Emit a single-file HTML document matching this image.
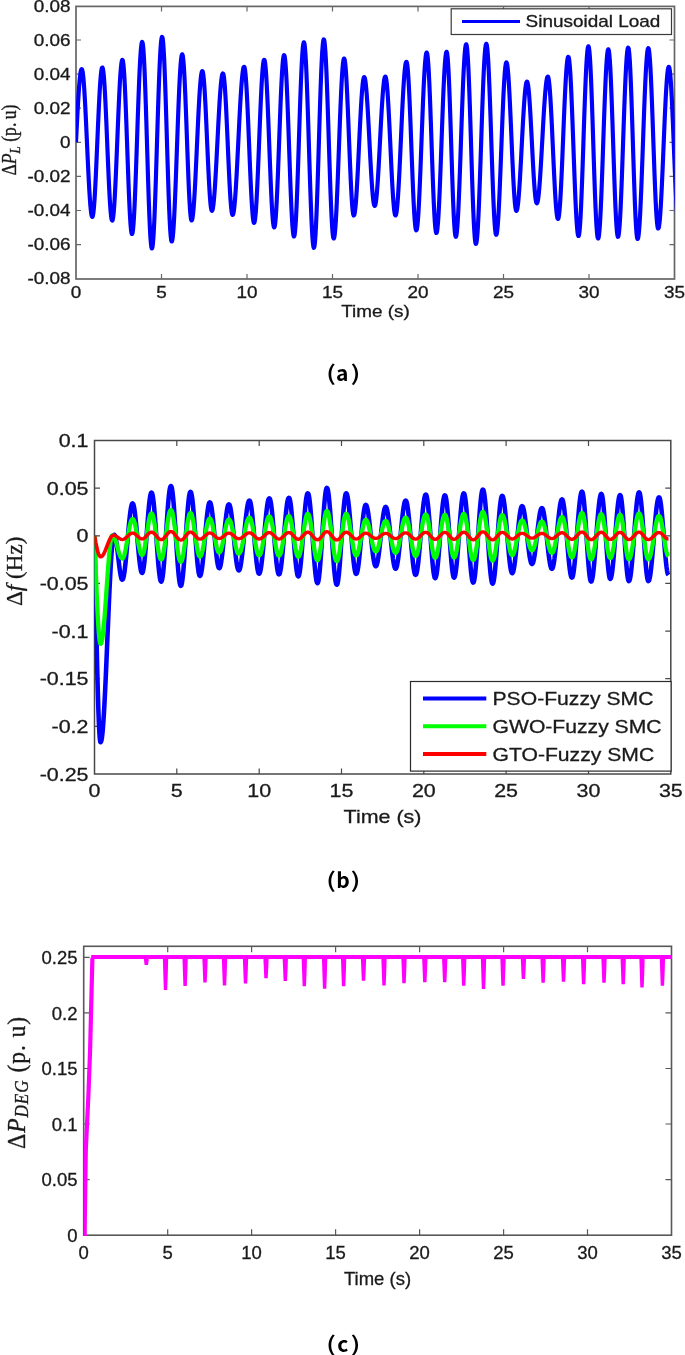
<!DOCTYPE html>
<html lang="en"><head><meta charset="utf-8"><title>Figure</title>
<style>
html,body{margin:0;padding:0;background:#fff;}
body{width:685px;height:1355px;overflow:hidden;}
svg{display:block;filter:blur(0.45px);}
</style></head><body>
<svg width="685" height="1355" viewBox="0 0 685 1355">
<rect width="685" height="1355" fill="#fff"/>
<g id="plot1">
<clipPath id="c1"><rect x="75.9" y="6.4" width="598.9" height="272.6"/></clipPath>
<rect x="76" y="6.4" width="598.5" height="272.6" fill="none" stroke="#666666" stroke-width="1.7"/>
<path d="M161.5 279 v-5 M161.5 6.4 v5 M247 279 v-5 M247 6.4 v5 M332.5 279 v-5 M332.5 6.4 v5 M418 279 v-5 M418 6.4 v5 M503.5 279 v-5 M503.5 6.4 v5 M589 279 v-5 M589 6.4 v5 M76 40 h5 M674.5 40 h-5 M76 74.1 h5 M674.5 74.1 h-5 M76 108.2 h5 M674.5 108.2 h-5 M76 142.3 h5 M674.5 142.3 h-5 M76 176.4 h5 M674.5 176.4 h-5 M76 210.5 h5 M674.5 210.5 h-5 M76 244.6 h5 M674.5 244.6 h-5 " stroke="#666666" stroke-width="1.2" fill="none"/>
<g clip-path="url(#c1)"><path transform="scale(1.190 1)" d="M63.87 142.3 L64.11 136.5 L64.34 130.8 L64.58 125.2 L64.82 119.6 L65.06 114.2 L65.30 109.0 L65.54 103.9 L65.78 99.1 L66.02 94.6 L66.26 90.4 L66.50 86.4 L66.74 82.9 L66.98 79.7 L67.22 76.9 L67.46 74.4 L67.70 72.4 L67.94 70.9 L68.18 69.8 L68.42 69.1 L68.66 68.8 L69.08 69.7 L69.50 72.1 L69.93 76.2 L70.35 81.7 L70.78 88.7 L71.20 96.8 L71.62 105.9 L72.05 115.9 L72.47 126.5 L72.90 137.5 L73.32 148.6 L73.75 159.6 L74.17 170.2 L74.59 180.1 L75.02 189.3 L75.44 197.4 L75.87 204.4 L76.29 209.9 L76.71 214.0 L77.14 216.4 L77.56 217.2 L77.98 216.3 L78.40 213.6 L78.82 209.1 L79.24 202.9 L79.66 195.3 L80.08 186.3 L80.50 176.3 L80.92 165.4 L81.34 153.9 L81.76 142.2 L82.18 130.5 L82.61 119.0 L83.03 108.1 L83.45 98.1 L83.87 89.1 L84.29 81.5 L84.71 75.3 L85.13 70.8 L85.55 68.1 L85.97 67.2 L86.40 68.2 L86.84 71.3 L87.28 76.4 L87.72 83.4 L88.16 92.0 L88.59 102.0 L89.03 113.2 L89.47 125.2 L89.91 137.7 L90.34 150.4 L90.78 162.9 L91.22 174.9 L91.66 186.1 L92.10 196.1 L92.53 204.7 L92.97 211.7 L93.41 216.8 L93.85 219.9 L94.29 220.9 L94.71 220.0 L95.14 217.0 L95.57 212.1 L96.00 205.5 L96.43 197.3 L96.86 187.7 L97.29 176.9 L97.71 165.2 L98.14 152.8 L98.57 140.2 L99.00 127.6 L99.43 115.2 L99.86 103.5 L100.29 92.7 L100.71 83.1 L101.14 74.9 L101.57 68.3 L102.00 63.4 L102.43 60.4 L102.86 59.5 L103.28 60.6 L103.71 64.2 L104.13 70.0 L104.56 77.9 L104.98 87.7 L105.40 99.1 L105.83 111.8 L106.25 125.4 L106.68 139.7 L107.10 154.1 L107.53 168.4 L107.95 182.0 L108.38 194.7 L108.80 206.1 L109.23 215.9 L109.65 223.8 L110.08 229.6 L110.50 233.2 L110.92 234.3 L111.35 233.2 L111.78 229.6 L112.21 223.8 L112.64 215.9 L113.07 206.1 L113.50 194.6 L113.92 181.7 L114.35 167.8 L114.78 153.1 L115.21 138.0 L115.64 122.9 L116.07 108.2 L116.50 94.3 L116.92 81.4 L117.35 69.9 L117.78 60.1 L118.21 52.2 L118.64 46.4 L119.07 42.8 L119.50 41.6 L119.92 43.1 L120.35 47.3 L120.78 54.1 L121.21 63.5 L121.64 75.1 L122.07 88.6 L122.50 103.6 L122.93 119.8 L123.36 136.6 L123.79 153.8 L124.21 170.6 L124.64 186.8 L125.07 201.8 L125.50 215.3 L125.93 226.9 L126.36 236.3 L126.79 243.1 L127.22 247.3 L127.65 248.8 L128.08 247.4 L128.50 243.6 L128.93 237.2 L129.36 228.5 L129.79 217.7 L130.22 205.0 L130.65 190.8 L131.08 175.5 L131.50 159.3 L131.93 142.7 L132.36 126.1 L132.79 109.9 L133.22 94.6 L133.65 80.4 L134.08 67.7 L134.50 56.9 L134.93 48.2 L135.36 41.8 L135.79 38.0 L136.22 36.6 L136.64 38.0 L137.07 42.2 L137.49 49.0 L137.92 58.3 L138.34 69.7 L138.77 83.1 L139.19 98.0 L139.62 114.0 L140.04 130.7 L140.46 147.7 L140.89 164.4 L141.31 180.4 L141.74 195.3 L142.16 208.7 L142.59 220.1 L143.01 229.4 L143.44 236.2 L143.86 240.4 L144.29 241.8 L144.71 240.7 L145.13 237.6 L145.55 232.5 L145.97 225.4 L146.39 216.7 L146.81 206.4 L147.23 194.8 L147.65 182.2 L148.07 168.8 L148.49 154.9 L148.91 140.9 L149.33 127.0 L149.75 113.6 L150.17 101.0 L150.59 89.4 L151.01 79.1 L151.43 70.4 L151.85 63.3 L152.27 58.2 L152.69 55.1 L153.11 54.0 L153.55 55.3 L153.99 59.1 L154.43 65.2 L154.86 73.6 L155.30 83.8 L155.74 95.7 L156.18 108.9 L156.62 122.9 L157.06 137.4 L157.50 151.9 L157.94 165.9 L158.38 179.1 L158.81 191.0 L159.25 201.2 L159.69 209.6 L160.13 215.7 L160.57 219.5 L161.01 220.8 L161.44 219.9 L161.86 217.4 L162.29 213.3 L162.72 207.7 L163.15 200.7 L163.58 192.5 L164.01 183.3 L164.43 173.2 L164.86 162.5 L165.29 151.4 L165.72 140.2 L166.15 129.1 L166.57 118.4 L167.00 108.3 L167.43 99.1 L167.86 90.9 L168.29 83.9 L168.72 78.3 L169.14 74.2 L169.57 71.7 L170.00 70.8 L170.42 71.8 L170.85 74.6 L171.27 79.3 L171.70 85.6 L172.12 93.5 L172.55 102.6 L172.97 112.8 L173.40 123.7 L173.82 135.2 L174.25 146.7 L174.67 158.2 L175.10 169.1 L175.52 179.3 L175.94 188.4 L176.37 196.3 L176.79 202.6 L177.22 207.3 L177.64 210.1 L178.07 211.1 L178.49 210.3 L178.91 208.3 L179.33 204.8 L179.75 200.1 L180.17 194.2 L180.59 187.3 L181.01 179.4 L181.43 170.7 L181.85 161.5 L182.27 151.9 L182.69 142.1 L183.11 132.3 L183.53 122.7 L183.95 113.5 L184.37 104.8 L184.79 96.9 L185.21 90.0 L185.63 84.1 L186.05 79.4 L186.47 75.9 L186.89 73.9 L187.31 73.2 L187.74 74.1 L188.17 77.0 L188.60 81.7 L189.03 88.1 L189.46 96.1 L189.89 105.3 L190.31 115.7 L190.74 126.8 L191.17 138.3 L191.60 150.1 L192.03 161.6 L192.46 172.7 L192.89 183.1 L193.32 192.3 L193.75 200.3 L194.18 206.7 L194.60 211.4 L195.03 214.3 L195.46 215.2 L195.88 214.6 L196.30 212.5 L196.72 209.1 L197.14 204.4 L197.56 198.6 L197.98 191.6 L198.40 183.8 L198.82 175.1 L199.24 165.8 L199.66 156.0 L200.08 145.9 L200.50 135.8 L200.92 125.7 L201.34 115.9 L201.76 106.6 L202.18 97.9 L202.61 90.1 L203.03 83.1 L203.45 77.3 L203.87 72.6 L204.29 69.2 L204.71 67.1 L205.13 66.5 L205.55 67.4 L205.97 70.3 L206.39 75.0 L206.81 81.4 L207.23 89.4 L207.65 98.7 L208.07 109.2 L208.49 120.6 L208.91 132.5 L209.33 144.8 L209.75 157.1 L210.17 169.0 L210.59 180.4 L211.01 190.9 L211.43 200.2 L211.85 208.2 L212.27 214.6 L212.69 219.3 L213.11 222.2 L213.53 223.2 L213.95 222.1 L214.38 219.1 L214.80 214.2 L215.23 207.5 L215.65 199.2 L216.08 189.4 L216.50 178.5 L216.92 166.6 L217.35 154.1 L217.77 141.3 L218.20 128.5 L218.62 116.0 L219.05 104.1 L219.47 93.2 L219.89 83.4 L220.32 75.1 L220.74 68.4 L221.17 63.5 L221.59 60.5 L222.02 59.5 L222.44 60.5 L222.86 63.6 L223.28 68.6 L223.70 75.5 L224.12 84.1 L224.54 94.1 L224.96 105.4 L225.38 117.6 L225.80 130.4 L226.22 143.5 L226.64 156.7 L227.06 169.5 L227.48 181.7 L227.90 193.0 L228.32 203.0 L228.74 211.6 L229.16 218.5 L229.58 223.5 L230.00 226.6 L230.42 227.7 L230.86 226.5 L231.30 223.0 L231.73 217.2 L232.17 209.4 L232.61 199.8 L233.05 188.5 L233.49 175.9 L233.92 162.4 L234.36 148.3 L234.80 134.1 L235.24 120.0 L235.67 106.5 L236.11 93.9 L236.55 82.6 L236.99 73.0 L237.43 65.2 L237.86 59.4 L238.30 55.9 L238.74 54.8 L239.18 56.0 L239.62 59.7 L240.05 65.7 L240.49 73.9 L240.93 84.1 L241.37 96.0 L241.80 109.2 L242.24 123.4 L242.68 138.3 L243.12 153.3 L243.56 168.2 L243.99 182.4 L244.43 195.6 L244.87 207.5 L245.31 217.7 L245.75 225.9 L246.18 231.9 L246.62 235.6 L247.06 236.8 L247.50 235.5 L247.93 231.6 L248.37 225.1 L248.81 216.3 L249.25 205.4 L249.69 192.7 L250.12 178.6 L250.56 163.4 L251.00 147.5 L251.44 131.4 L251.88 115.5 L252.31 100.3 L252.75 86.2 L253.19 73.5 L253.63 62.6 L254.06 53.8 L254.50 47.3 L254.94 43.4 L255.38 42.0 L255.80 43.3 L256.22 47.1 L256.64 53.3 L257.06 61.7 L257.48 72.2 L257.90 84.5 L258.32 98.3 L258.74 113.2 L259.16 128.9 L259.58 145.0 L260.00 161.2 L260.42 176.9 L260.84 191.8 L261.26 205.6 L261.68 217.9 L262.10 228.4 L262.52 236.8 L262.94 243.0 L263.36 246.8 L263.78 248.1 L264.22 246.6 L264.66 242.4 L265.10 235.5 L265.53 226.0 L265.97 214.3 L266.41 200.7 L266.85 185.6 L267.28 169.2 L267.72 152.2 L268.16 135.0 L268.60 118.0 L269.04 101.6 L269.47 86.5 L269.91 72.9 L270.35 61.2 L270.79 51.7 L271.23 44.8 L271.66 40.6 L272.10 39.1 L272.54 40.5 L272.98 44.6 L273.41 51.2 L273.85 60.2 L274.29 71.4 L274.73 84.4 L275.17 98.9 L275.60 114.5 L276.04 130.8 L276.48 147.2 L276.92 163.5 L277.36 179.1 L277.79 193.6 L278.23 206.6 L278.67 217.8 L279.11 226.8 L279.54 233.4 L279.98 237.5 L280.42 238.8 L280.86 237.7 L281.29 234.4 L281.73 229.0 L282.17 221.6 L282.61 212.4 L283.04 201.6 L283.48 189.5 L283.92 176.5 L284.35 162.7 L284.79 148.6 L285.23 134.4 L285.66 120.6 L286.10 107.6 L286.54 95.5 L286.97 84.7 L287.41 75.5 L287.85 68.1 L288.29 62.7 L288.72 59.4 L289.16 58.2 L289.59 59.3 L290.02 62.5 L290.45 67.7 L290.88 74.9 L291.30 83.7 L291.73 93.9 L292.16 105.4 L292.59 117.7 L293.02 130.5 L293.45 143.5 L293.88 156.3 L294.31 168.6 L294.74 180.1 L295.17 190.3 L295.59 199.1 L296.02 206.3 L296.45 211.5 L296.88 214.7 L297.31 215.8 L297.75 214.9 L298.18 212.4 L298.62 208.2 L299.06 202.5 L299.50 195.4 L299.93 187.1 L300.37 177.8 L300.81 167.8 L301.24 157.2 L301.68 146.3 L302.12 135.4 L302.55 124.8 L302.99 114.8 L303.43 105.5 L303.87 97.2 L304.30 90.1 L304.74 84.4 L305.18 80.2 L305.61 77.7 L306.05 76.8 L306.47 77.6 L306.89 79.7 L307.31 83.2 L307.73 88.1 L308.15 94.1 L308.57 101.2 L308.99 109.1 L309.41 117.8 L309.83 127.1 L310.25 136.6 L310.67 146.3 L311.09 155.8 L311.51 165.1 L311.93 173.8 L312.35 181.7 L312.77 188.8 L313.19 194.8 L313.61 199.7 L314.03 203.2 L314.45 205.3 L314.87 206.1 L315.30 205.3 L315.72 203.2 L316.15 199.6 L316.57 194.8 L316.99 188.7 L317.42 181.6 L317.84 173.6 L318.27 164.9 L318.69 155.6 L319.12 146.0 L319.54 136.4 L319.96 126.8 L320.39 117.5 L320.81 108.8 L321.24 100.8 L321.66 93.7 L322.08 87.6 L322.51 82.8 L322.93 79.2 L323.36 77.1 L323.78 76.3 L324.21 77.2 L324.64 79.8 L325.07 83.9 L325.50 89.7 L325.92 96.8 L326.35 105.1 L326.78 114.4 L327.21 124.5 L327.64 135.1 L328.07 146.0 L328.50 157.0 L328.92 167.6 L329.35 177.7 L329.78 187.0 L330.21 195.3 L330.64 202.4 L331.07 208.2 L331.50 212.3 L331.92 214.9 L332.35 215.8 L332.79 214.9 L333.23 212.3 L333.66 208.1 L334.10 202.3 L334.53 195.2 L334.97 186.7 L335.41 177.2 L335.84 166.8 L336.28 155.8 L336.71 144.4 L337.15 132.8 L337.59 121.4 L338.02 110.4 L338.46 100.0 L338.90 90.5 L339.33 82.0 L339.77 74.9 L340.20 69.1 L340.64 64.9 L341.08 62.3 L341.51 61.5 L341.95 62.6 L342.39 66.0 L342.83 71.6 L343.26 79.3 L343.70 88.8 L344.14 99.8 L344.58 112.1 L345.02 125.3 L345.45 139.1 L345.89 153.0 L346.33 166.8 L346.77 180.0 L347.20 192.3 L347.64 203.3 L348.08 212.8 L348.52 220.5 L348.96 226.1 L349.39 229.5 L349.83 230.7 L350.27 229.6 L350.71 226.3 L351.14 220.9 L351.58 213.6 L352.02 204.5 L352.45 193.9 L352.89 181.9 L353.33 169.0 L353.76 155.4 L354.20 141.5 L354.64 127.5 L355.08 113.9 L355.51 101.0 L355.95 89.0 L356.39 78.4 L356.82 69.3 L357.26 62.0 L357.70 56.6 L358.13 53.3 L358.57 52.2 L359.00 53.5 L359.43 57.2 L359.86 63.2 L360.29 71.3 L360.72 81.5 L361.15 93.3 L361.57 106.4 L362.00 120.6 L362.43 135.3 L362.86 150.3 L363.29 165.0 L363.72 179.2 L364.15 192.3 L364.58 204.1 L365.01 214.3 L365.44 222.4 L365.86 228.4 L366.29 232.1 L366.72 233.3 L367.15 232.2 L367.58 228.9 L368.01 223.4 L368.44 216.0 L368.87 206.7 L369.29 195.9 L369.72 183.7 L370.15 170.5 L370.58 156.7 L371.01 142.4 L371.44 128.2 L371.87 114.4 L372.29 101.2 L372.72 89.0 L373.15 78.2 L373.58 68.9 L374.01 61.5 L374.44 56.0 L374.87 52.7 L375.29 51.5 L375.72 53.0 L376.15 57.1 L376.58 64.0 L377.01 73.2 L377.44 84.7 L377.87 97.9 L378.30 112.6 L378.73 128.2 L379.16 144.3 L379.59 160.4 L380.02 176.0 L380.45 190.7 L380.88 203.9 L381.31 215.4 L381.74 224.6 L382.17 231.5 L382.60 235.6 L383.03 237.1 L383.46 235.9 L383.90 232.3 L384.34 226.5 L384.77 218.6 L385.21 208.8 L385.65 197.3 L386.08 184.4 L386.52 170.4 L386.96 155.6 L387.39 140.6 L387.83 125.5 L388.27 110.7 L388.71 96.7 L389.14 83.8 L389.58 72.3 L390.02 62.5 L390.45 54.6 L390.89 48.8 L391.33 45.2 L391.76 44.0 L392.19 45.4 L392.62 49.5 L393.05 56.1 L393.48 65.2 L393.91 76.4 L394.34 89.4 L394.77 103.9 L395.20 119.6 L395.63 135.9 L396.05 152.4 L396.48 168.7 L396.91 184.4 L397.34 198.9 L397.77 211.9 L398.20 223.1 L398.63 232.2 L399.06 238.8 L399.49 242.9 L399.92 244.2 L400.35 243.0 L400.79 239.3 L401.23 233.3 L401.66 225.1 L402.10 214.9 L402.54 202.9 L402.97 189.5 L403.41 174.9 L403.85 159.6 L404.29 143.9 L404.72 128.2 L405.16 112.9 L405.60 98.3 L406.03 84.9 L406.47 72.9 L406.91 62.7 L407.34 54.5 L407.78 48.5 L408.22 44.8 L408.66 43.5 L409.09 44.9 L409.53 48.7 L409.97 55.1 L410.41 63.7 L410.84 74.5 L411.28 86.9 L411.72 100.8 L412.16 115.8 L412.60 131.4 L413.03 147.2 L413.47 162.8 L413.91 177.8 L414.35 191.7 L414.79 204.1 L415.22 214.9 L415.66 223.5 L416.10 229.9 L416.54 233.7 L416.97 235.1 L417.40 234.0 L417.83 230.8 L418.26 225.6 L418.69 218.5 L419.12 209.7 L419.55 199.4 L419.97 187.8 L420.40 175.3 L420.83 162.1 L421.26 148.6 L421.69 135.1 L422.12 121.9 L422.55 109.4 L422.97 97.8 L423.40 87.5 L423.83 78.7 L424.26 71.6 L424.69 66.4 L425.12 63.2 L425.55 62.1 L425.97 63.1 L426.39 65.8 L426.81 70.3 L427.23 76.4 L427.65 84.0 L428.07 92.9 L428.49 102.9 L428.91 113.7 L429.33 125.0 L429.75 136.7 L430.17 148.4 L430.59 159.7 L431.01 170.5 L431.43 180.5 L431.85 189.4 L432.27 197.0 L432.69 203.1 L433.11 207.6 L433.53 210.3 L433.95 211.2 L434.37 210.5 L434.80 208.4 L435.22 204.8 L435.65 200.0 L436.07 193.9 L436.49 186.8 L436.92 178.8 L437.34 170.0 L437.77 160.8 L438.19 151.2 L438.62 141.4 L439.04 131.8 L439.46 122.6 L439.89 113.8 L440.31 105.8 L440.74 98.7 L441.16 92.6 L441.58 87.8 L442.01 84.2 L442.43 82.1 L442.86 81.3 L443.29 82.2 L443.72 84.7 L444.16 88.7 L444.59 94.2 L445.02 101.1 L445.46 109.0 L445.89 117.9 L446.32 127.5 L446.76 137.4 L447.19 147.5 L447.62 157.4 L448.06 167.0 L448.49 175.9 L448.93 183.8 L449.36 190.7 L449.79 196.2 L450.23 200.2 L450.66 202.7 L451.09 203.6 L451.51 202.9 L451.93 201.0 L452.35 197.8 L452.77 193.5 L453.19 188.0 L453.61 181.6 L454.03 174.3 L454.45 166.4 L454.87 157.9 L455.29 149.0 L455.71 140.0 L456.13 130.9 L456.55 122.0 L456.97 113.5 L457.39 105.6 L457.82 98.3 L458.24 91.9 L458.66 86.4 L459.08 82.1 L459.50 78.9 L459.92 77.0 L460.34 76.3 L460.76 77.2 L461.19 79.8 L461.62 84.1 L462.05 90.0 L462.48 97.3 L462.91 105.8 L463.34 115.4 L463.76 125.7 L464.19 136.6 L464.62 147.8 L465.05 159.0 L465.48 169.9 L465.91 180.2 L466.34 189.8 L466.76 198.3 L467.19 205.6 L467.62 211.5 L468.05 215.8 L468.48 218.4 L468.91 219.2 L469.34 218.2 L469.77 215.3 L470.21 210.4 L470.64 203.7 L471.07 195.4 L471.50 185.7 L471.94 174.8 L472.37 163.0 L472.80 150.6 L473.24 137.9 L473.67 125.1 L474.10 112.7 L474.53 100.9 L474.97 90.0 L475.40 80.3 L475.83 72.0 L476.26 65.3 L476.70 60.4 L477.13 57.5 L477.56 56.5 L477.99 57.6 L478.42 60.9 L478.85 66.3 L479.28 73.6 L479.71 82.8 L480.13 93.5 L480.56 105.6 L480.99 118.6 L481.42 132.3 L481.85 146.4 L482.28 160.5 L482.71 174.2 L483.13 187.2 L483.56 199.3 L483.99 210.0 L484.42 219.2 L484.85 226.5 L485.28 231.9 L485.71 235.2 L486.13 236.3 L486.57 235.1 L487.01 231.2 L487.45 224.9 L487.89 216.3 L488.32 205.6 L488.76 193.2 L489.20 179.4 L489.64 164.6 L490.08 149.1 L490.51 133.3 L490.95 117.8 L491.39 103.0 L491.83 89.2 L492.26 76.8 L492.70 66.1 L493.14 57.5 L493.58 51.2 L494.02 47.3 L494.45 46.0 L494.88 47.4 L495.31 51.3 L495.74 57.7 L496.17 66.4 L496.60 77.2 L497.03 89.7 L497.46 103.7 L497.89 118.8 L498.31 134.5 L498.74 150.4 L499.17 166.1 L499.60 181.2 L500.03 195.2 L500.46 207.7 L500.89 218.5 L501.32 227.2 L501.75 233.6 L502.18 237.5 L502.61 238.8 L503.03 237.7 L503.46 234.2 L503.89 228.5 L504.32 220.7 L504.75 211.1 L505.18 199.7 L505.61 187.0 L506.03 173.3 L506.46 158.8 L506.89 143.9 L507.32 129.1 L507.75 114.6 L508.18 100.9 L508.61 88.2 L509.03 76.8 L509.46 67.2 L509.89 59.4 L510.32 53.7 L510.75 50.2 L511.18 49.0 L511.61 50.3 L512.03 54.1 L512.46 60.4 L512.89 68.9 L513.32 79.4 L513.75 91.6 L514.18 105.3 L514.61 120.0 L515.04 135.3 L515.47 150.8 L515.90 166.1 L516.32 180.8 L516.75 194.5 L517.18 206.7 L517.61 217.2 L518.04 225.7 L518.47 232.0 L518.90 235.8 L519.33 237.1 L519.76 235.9 L520.18 232.4 L520.61 226.7 L521.04 218.9 L521.47 209.3 L521.90 198.0 L522.33 185.3 L522.76 171.5 L523.18 157.0 L523.61 142.2 L524.04 127.4 L524.47 112.9 L524.90 99.1 L525.33 86.4 L525.76 75.1 L526.18 65.5 L526.61 57.7 L527.04 52.0 L527.47 48.5 L527.90 47.4 L528.34 48.8 L528.78 53.1 L529.22 60.2 L529.65 69.8 L530.09 81.6 L530.53 95.3 L530.97 110.5 L531.41 126.7 L531.85 143.3 L532.29 160.0 L532.73 176.2 L533.17 191.3 L533.60 205.1 L534.04 216.9 L534.48 226.5 L534.92 233.6 L535.36 237.9 L535.80 239.3 L536.23 238.3 L536.65 235.1 L537.08 229.9 L537.51 222.7 L537.94 213.8 L538.37 203.3 L538.80 191.5 L539.22 178.6 L539.65 164.9 L540.08 150.8 L540.51 136.4 L540.94 122.3 L541.36 108.6 L541.79 95.7 L542.22 83.9 L542.65 73.4 L543.08 64.5 L543.51 57.3 L543.93 52.1 L544.36 48.9 L544.79 47.9 L545.23 49.1 L545.67 52.8 L546.10 58.8 L546.54 66.9 L546.98 77.1 L547.42 88.9 L547.85 102.0 L548.29 116.1 L548.73 130.9 L549.17 145.8 L549.61 160.6 L550.04 174.7 L550.48 187.8 L550.92 199.6 L551.36 209.8 L551.80 217.9 L552.23 223.9 L552.67 227.6 L553.11 228.8 L553.53 227.9 L553.96 225.2 L554.38 220.8 L554.81 214.7 L555.23 207.2 L555.65 198.3 L556.08 188.2 L556.50 177.3 L556.93 165.7 L557.35 153.7 L557.78 141.6 L558.20 129.6 L558.62 118.0 L559.05 107.1 L559.47 97.0 L559.90 88.1 L560.32 80.6 L560.74 74.5 L561.17 70.1 L561.59 67.4 L562.02 66.5 L562.45 67.4 L562.87 70.4 L563.30 75.3 L563.73 81.9 L564.16 90.1 L564.59 99.7 L565.02 110.6 L565.45 122.3 L565.87 134.6 L566.30 147.2 L566.73 159.9 L567.16 172.2 L567.59 183.9 L568.02 194.7 L568.45 204.3 L568.87 212.6 L569.30 219.2" fill="none" stroke="#0000ff" stroke-width="3.5" stroke-linejoin="round"/></g>
<text transform="translate(70.5 11.6) scale(1.190 1.000)" font-family='"Liberation Sans", sans-serif' font-size="15.9" text-anchor="end" font-weight="normal" font-style="normal" fill="#1a1a1a" stroke="#1a1a1a" stroke-width="0.3" >0.08</text>
<text transform="translate(70.5 45.7) scale(1.190 1.000)" font-family='"Liberation Sans", sans-serif' font-size="15.9" text-anchor="end" font-weight="normal" font-style="normal" fill="#1a1a1a" stroke="#1a1a1a" stroke-width="0.3" >0.06</text>
<text transform="translate(70.5 79.8) scale(1.190 1.000)" font-family='"Liberation Sans", sans-serif' font-size="15.9" text-anchor="end" font-weight="normal" font-style="normal" fill="#1a1a1a" stroke="#1a1a1a" stroke-width="0.3" >0.04</text>
<text transform="translate(70.5 113.9) scale(1.190 1.000)" font-family='"Liberation Sans", sans-serif' font-size="15.9" text-anchor="end" font-weight="normal" font-style="normal" fill="#1a1a1a" stroke="#1a1a1a" stroke-width="0.3" >0.02</text>
<text transform="translate(70.5 148) scale(1.190 1.000)" font-family='"Liberation Sans", sans-serif' font-size="15.9" text-anchor="end" font-weight="normal" font-style="normal" fill="#1a1a1a" stroke="#1a1a1a" stroke-width="0.3" >0</text>
<text transform="translate(70.5 182.1) scale(1.190 1.000)" font-family='"Liberation Sans", sans-serif' font-size="15.9" text-anchor="end" font-weight="normal" font-style="normal" fill="#1a1a1a" stroke="#1a1a1a" stroke-width="0.3" >-0.02</text>
<text transform="translate(70.5 216.2) scale(1.190 1.000)" font-family='"Liberation Sans", sans-serif' font-size="15.9" text-anchor="end" font-weight="normal" font-style="normal" fill="#1a1a1a" stroke="#1a1a1a" stroke-width="0.3" >-0.04</text>
<text transform="translate(70.5 250.3) scale(1.190 1.000)" font-family='"Liberation Sans", sans-serif' font-size="15.9" text-anchor="end" font-weight="normal" font-style="normal" fill="#1a1a1a" stroke="#1a1a1a" stroke-width="0.3" >-0.06</text>
<text transform="translate(70.5 284.4) scale(1.190 1.000)" font-family='"Liberation Sans", sans-serif' font-size="15.9" text-anchor="end" font-weight="normal" font-style="normal" fill="#1a1a1a" stroke="#1a1a1a" stroke-width="0.3" >-0.08</text>
<text transform="translate(76 297.8) scale(1.190 1.000)" font-family='"Liberation Sans", sans-serif' font-size="15.9" text-anchor="middle" font-weight="normal" font-style="normal" fill="#1a1a1a" stroke="#1a1a1a" stroke-width="0.3" >0</text>
<text transform="translate(161.5 297.8) scale(1.190 1.000)" font-family='"Liberation Sans", sans-serif' font-size="15.9" text-anchor="middle" font-weight="normal" font-style="normal" fill="#1a1a1a" stroke="#1a1a1a" stroke-width="0.3" >5</text>
<text transform="translate(247 297.8) scale(1.190 1.000)" font-family='"Liberation Sans", sans-serif' font-size="15.9" text-anchor="middle" font-weight="normal" font-style="normal" fill="#1a1a1a" stroke="#1a1a1a" stroke-width="0.3" >10</text>
<text transform="translate(332.5 297.8) scale(1.190 1.000)" font-family='"Liberation Sans", sans-serif' font-size="15.9" text-anchor="middle" font-weight="normal" font-style="normal" fill="#1a1a1a" stroke="#1a1a1a" stroke-width="0.3" >15</text>
<text transform="translate(418 297.8) scale(1.190 1.000)" font-family='"Liberation Sans", sans-serif' font-size="15.9" text-anchor="middle" font-weight="normal" font-style="normal" fill="#1a1a1a" stroke="#1a1a1a" stroke-width="0.3" >20</text>
<text transform="translate(503.5 297.8) scale(1.190 1.000)" font-family='"Liberation Sans", sans-serif' font-size="15.9" text-anchor="middle" font-weight="normal" font-style="normal" fill="#1a1a1a" stroke="#1a1a1a" stroke-width="0.3" >25</text>
<text transform="translate(589 297.8) scale(1.190 1.000)" font-family='"Liberation Sans", sans-serif' font-size="15.9" text-anchor="middle" font-weight="normal" font-style="normal" fill="#1a1a1a" stroke="#1a1a1a" stroke-width="0.3" >30</text>
<text transform="translate(674.5 297.8) scale(1.190 1.000)" font-family='"Liberation Sans", sans-serif' font-size="15.9" text-anchor="middle" font-weight="normal" font-style="normal" fill="#1a1a1a" stroke="#1a1a1a" stroke-width="0.3" >35</text>
<text transform="translate(375.5 317) scale(1.190 1.000)" font-family='"Liberation Sans", sans-serif' font-size="15.9" text-anchor="middle" font-weight="normal" font-style="normal" fill="#1a1a1a" stroke="#1a1a1a" stroke-width="0.3" >Time (s)</text>
<rect x="451.2" y="8.8" width="220.3" height="25.7" fill="#fff" stroke="#3a3a3a" stroke-width="1.2"/>
<path d="M462 21.5 H520" stroke="#0000ff" stroke-width="3.2"/>
<text transform="translate(525.6 26.9) scale(1.190 1.000)" font-family='"Liberation Sans", sans-serif' font-size="15.9" text-anchor="start" font-weight="normal" font-style="normal" fill="#1a1a1a" stroke="#1a1a1a" stroke-width="0.3" >Sinusoidal Load</text>
<text transform="translate(15.5 140) rotate(-90) scale(1.000 1.150)" font-family='"Liberation Serif", serif' font-size="17.6" text-anchor="middle" font-weight="normal" font-style="normal" fill="#1a1a1a" stroke="#1a1a1a" stroke-width="0.3" >&#916;<tspan font-style="italic">P</tspan><tspan font-style="italic" font-size="13" dy="4">L</tspan><tspan dy="-4"> (p.&#8201;u)</tspan></text>
</g>
<g font-family='"Noto Sans CJK SC", "Liberation Sans", sans-serif' font-size="21" font-weight="bold" fill="#000">
<text font-weight="500" transform="translate(325.9 380.5) scale(1.35 1)">(</text><text x="335.9" y="380.5">a</text><text font-weight="500" transform="translate(350.4 380.5) scale(1.35 1)">)</text>
</g>
<g id="plot2">
<clipPath id="c2"><rect x="94.4" y="440.5" width="576.7" height="333.5"/></clipPath>
<rect x="94.5" y="440.5" width="576.3" height="333.5" fill="none" stroke="#484848" stroke-width="1.5"/>
<path d="M176.8 774 v-5.5 M176.8 440.5 v5.5 M259.2 774 v-5.5 M259.2 440.5 v5.5 M341.5 774 v-5.5 M341.5 440.5 v5.5 M423.8 774 v-5.5 M423.8 440.5 v5.5 M506.1 774 v-5.5 M506.1 440.5 v5.5 M588.5 774 v-5.5 M588.5 440.5 v5.5 M94.5 488.1 h5.5 M670.8 488.1 h-5.5 M94.5 535.8 h5.5 M670.8 535.8 h-5.5 M94.5 583.4 h5.5 M670.8 583.4 h-5.5 M94.5 631.1 h5.5 M670.8 631.1 h-5.5 M94.5 678.7 h5.5 M670.8 678.7 h-5.5 M94.5 726.4 h5.5 M670.8 726.4 h-5.5 " stroke="#484848" stroke-width="1.2" fill="none"/>
<g clip-path="url(#c2)"><path transform="scale(1.140 1)" d="M82.89 535.8 L83.07 546.6 L83.25 557.4 L83.43 568.1 L83.61 578.8 L83.79 589.3 L83.96 599.7 L84.14 609.9 L84.32 619.9 L84.50 629.6 L84.68 639.1 L84.86 648.4 L85.04 657.3 L85.21 665.9 L85.39 674.1 L85.57 682.0 L85.75 689.4 L85.93 696.4 L86.11 703.0 L86.28 709.2 L86.46 714.8 L86.64 720.0 L86.82 724.6 L87.00 728.8 L87.18 732.4 L87.35 735.5 L87.53 738.0 L87.71 740.0 L87.89 741.4 L88.07 742.2 L88.25 742.5 L88.64 741.9 L89.04 740.2 L89.44 737.4 L89.84 733.5 L90.23 728.6 L90.63 722.6 L91.03 715.8 L91.43 708.1 L91.82 699.6 L92.22 690.5 L92.62 680.8 L93.02 670.6 L93.42 660.1 L93.81 649.4 L94.21 638.5 L94.61 627.6 L95.01 616.9 L95.40 606.4 L95.80 596.2 L96.20 586.5 L96.60 577.4 L96.99 568.9 L97.39 561.2 L97.79 554.4 L98.19 548.4 L98.58 543.5 L98.98 539.6 L99.38 536.8 L99.78 535.1 L100.18 534.5 L100.62 534.9 L101.06 536.2 L101.51 538.3 L101.95 541.2 L102.40 544.6 L102.84 548.5 L103.28 552.8 L103.73 557.2 L104.17 561.7 L104.62 566.0 L105.06 569.9 L105.50 573.3 L105.95 576.2 L106.39 578.3 L106.84 579.6 L107.28 580.0 L107.73 579.5 L108.18 578.1 L108.64 575.8 L109.09 572.7 L109.54 568.8 L109.99 564.2 L110.44 559.0 L110.89 553.5 L111.35 547.6 L111.80 541.6 L112.25 535.6 L112.70 529.7 L113.15 524.2 L113.61 519.0 L114.06 514.4 L114.51 510.5 L114.96 507.4 L115.41 505.1 L115.86 503.7 L116.32 503.2 L116.75 503.7 L117.19 505.1 L117.63 507.4 L118.07 510.6 L118.51 514.5 L118.95 519.1 L119.39 524.1 L119.82 529.6 L120.26 535.3 L120.70 541.1 L121.14 546.8 L121.58 552.3 L122.02 557.3 L122.46 561.9 L122.89 565.8 L123.33 569.0 L123.77 571.3 L124.21 572.7 L124.65 573.2 L125.11 572.6 L125.57 570.8 L126.02 567.8 L126.48 563.7 L126.94 558.8 L127.40 553.0 L127.86 546.6 L128.31 539.8 L128.77 532.8 L129.23 525.7 L129.69 518.9 L130.15 512.5 L130.60 506.7 L131.06 501.8 L131.52 497.7 L131.98 494.7 L132.44 492.9 L132.89 492.3 L133.34 492.9 L133.79 494.7 L134.24 497.7 L134.69 501.7 L135.13 506.7 L135.58 512.6 L136.03 519.1 L136.48 526.1 L136.93 533.4 L137.37 540.7 L137.82 548.0 L138.27 555.0 L138.72 561.5 L139.16 567.4 L139.61 572.4 L140.06 576.4 L140.51 579.4 L140.96 581.2 L141.40 581.8 L141.85 581.1 L142.30 579.2 L142.75 576.0 L143.19 571.7 L143.64 566.3 L144.09 560.1 L144.54 553.1 L144.99 545.6 L145.43 537.8 L145.88 529.8 L146.33 522.0 L146.78 514.5 L147.23 507.5 L147.67 501.3 L148.12 495.9 L148.57 491.6 L149.02 488.4 L149.46 486.5 L149.91 485.8 L150.37 486.5 L150.83 488.5 L151.28 491.8 L151.74 496.4 L152.20 502.0 L152.65 508.5 L153.11 515.8 L153.57 523.6 L154.03 531.8 L154.48 540.1 L154.94 548.3 L155.40 556.1 L155.85 563.4 L156.31 569.9 L156.77 575.5 L157.23 580.1 L157.68 583.4 L158.14 585.4 L158.60 586.1 L159.04 585.5 L159.49 583.5 L159.94 580.4 L160.39 576.1 L160.84 570.9 L161.28 564.7 L161.73 557.8 L162.18 550.4 L162.63 542.8 L163.07 534.9 L163.52 527.3 L163.97 519.9 L164.42 513.0 L164.87 506.8 L165.31 501.6 L165.76 497.3 L166.21 494.2 L166.66 492.2 L167.11 491.6 L167.56 492.2 L168.02 494.1 L168.48 497.3 L168.94 501.5 L169.40 506.7 L169.85 512.7 L170.31 519.4 L170.77 526.5 L171.23 533.9 L171.69 541.2 L172.14 548.3 L172.60 555.0 L173.06 561.0 L173.52 566.2 L173.98 570.4 L174.43 573.6 L174.89 575.5 L175.35 576.1 L175.81 575.6 L176.27 574.1 L176.72 571.6 L177.18 568.3 L177.64 564.2 L178.09 559.4 L178.55 554.0 L179.01 548.2 L179.46 542.2 L179.92 536.1 L180.38 530.1 L180.84 524.3 L181.29 518.9 L181.75 514.1 L182.21 510.0 L182.66 506.7 L183.12 504.2 L183.58 502.7 L184.04 502.2 L184.49 502.7 L184.95 504.2 L185.41 506.6 L185.87 509.9 L186.33 514.0 L186.78 518.8 L187.24 524.0 L187.70 529.6 L188.16 535.3 L188.62 541.0 L189.07 546.6 L189.53 551.9 L189.99 556.6 L190.45 560.7 L190.91 564.0 L191.36 566.4 L191.82 567.9 L192.28 568.4 L192.73 568.0 L193.18 566.7 L193.62 564.5 L194.07 561.6 L194.52 558.0 L194.97 553.8 L195.42 549.1 L195.86 544.1 L196.31 538.9 L196.76 533.5 L197.21 528.3 L197.65 523.3 L198.10 518.6 L198.55 514.4 L199.00 510.8 L199.45 507.9 L199.89 505.7 L200.34 504.4 L200.79 504.0 L201.25 504.5 L201.70 505.8 L202.16 508.0 L202.62 511.0 L203.07 514.8 L203.53 519.1 L203.99 524.0 L204.45 529.2 L204.90 534.6 L205.36 540.1 L205.82 545.5 L206.27 550.7 L206.73 555.6 L207.19 559.9 L207.65 563.7 L208.10 566.7 L208.56 568.9 L209.02 570.2 L209.47 570.7 L209.92 570.3 L210.36 569.1 L210.80 567.2 L211.24 564.6 L211.69 561.3 L212.13 557.4 L212.57 553.1 L213.02 548.4 L213.46 543.3 L213.90 538.1 L214.34 532.9 L214.79 527.7 L215.23 522.6 L215.67 517.9 L216.12 513.6 L216.56 509.7 L217.00 506.4 L217.44 503.8 L217.89 501.9 L218.33 500.7 L218.77 500.3 L219.22 500.8 L219.67 502.3 L220.12 504.7 L220.56 508.1 L221.01 512.2 L221.46 517.0 L221.91 522.3 L222.35 528.1 L222.80 534.1 L223.25 540.1 L223.70 546.1 L224.15 551.9 L224.59 557.2 L225.04 562.0 L225.49 566.1 L225.94 569.5 L226.39 571.9 L226.83 573.4 L227.28 573.9 L227.73 573.4 L228.18 572.0 L228.62 569.8 L229.07 566.7 L229.52 562.8 L229.96 558.3 L230.41 553.2 L230.86 547.7 L231.31 541.9 L231.75 536.0 L232.20 530.0 L232.65 524.2 L233.10 518.7 L233.54 513.6 L233.99 509.1 L234.44 505.2 L234.89 502.1 L235.33 499.9 L235.78 498.5 L236.23 498.0 L236.68 498.5 L237.12 500.1 L237.57 502.6 L238.02 506.1 L238.47 510.4 L238.92 515.4 L239.36 520.9 L239.81 526.9 L240.26 533.1 L240.71 539.5 L241.15 545.7 L241.60 551.7 L242.05 557.2 L242.50 562.2 L242.95 566.5 L243.39 570.0 L243.84 572.5 L244.29 574.1 L244.74 574.6 L245.19 574.1 L245.65 572.5 L246.11 570.0 L246.57 566.5 L247.02 562.2 L247.48 557.1 L247.94 551.5 L248.39 545.5 L248.85 539.2 L249.31 532.9 L249.76 526.6 L250.22 520.6 L250.68 515.0 L251.14 509.9 L251.59 505.6 L252.05 502.1 L252.51 499.6 L252.96 498.0 L253.42 497.5 L253.88 498.1 L254.34 499.9 L254.80 502.8 L255.25 506.8 L255.71 511.6 L256.17 517.3 L256.63 523.5 L257.09 530.2 L257.54 537.0 L258.00 543.9 L258.46 550.6 L258.92 556.8 L259.38 562.5 L259.83 567.3 L260.29 571.3 L260.75 574.2 L261.21 576.0 L261.67 576.6 L262.11 576.0 L262.54 574.3 L262.98 571.6 L263.42 567.8 L263.86 563.1 L264.30 557.7 L264.74 551.6 L265.18 545.1 L265.61 538.3 L266.05 531.3 L266.49 524.5 L266.93 518.0 L267.37 511.9 L267.81 506.5 L268.25 501.8 L268.68 498.0 L269.12 495.3 L269.56 493.6 L270.00 493.0 L270.45 493.6 L270.90 495.4 L271.34 498.4 L271.79 502.5 L272.24 507.6 L272.69 513.5 L273.13 520.0 L273.58 527.1 L274.03 534.4 L274.48 541.9 L274.93 549.2 L275.37 556.3 L275.82 562.8 L276.27 568.7 L276.72 573.8 L277.17 577.9 L277.61 580.9 L278.06 582.7 L278.51 583.3 L278.97 582.6 L279.42 580.4 L279.88 576.9 L280.34 572.1 L280.80 566.2 L281.26 559.4 L281.72 551.8 L282.17 543.8 L282.63 535.5 L283.09 527.1 L283.55 519.1 L284.01 511.5 L284.46 504.7 L284.92 498.8 L285.38 494.0 L285.84 490.5 L286.30 488.3 L286.75 487.6 L287.21 488.3 L287.67 490.2 L288.13 493.5 L288.58 497.9 L289.04 503.3 L289.50 509.7 L289.95 516.7 L290.41 524.3 L290.87 532.3 L291.33 540.3 L291.78 548.3 L292.24 555.9 L292.70 562.9 L293.15 569.3 L293.61 574.7 L294.07 579.1 L294.52 582.4 L294.98 584.3 L295.44 585.0 L295.90 584.3 L296.35 582.2 L296.81 578.8 L297.27 574.2 L297.73 568.6 L298.19 562.0 L298.65 554.7 L299.10 547.0 L299.56 539.0 L300.02 531.0 L300.48 523.3 L300.94 516.0 L301.39 509.4 L301.85 503.8 L302.31 499.2 L302.77 495.8 L303.23 493.7 L303.68 493.0 L304.12 493.5 L304.56 495.0 L305.00 497.4 L305.44 500.7 L305.88 504.9 L306.32 509.7 L306.75 515.1 L307.19 521.0 L307.63 527.2 L308.07 533.5 L308.51 539.9 L308.95 546.1 L309.39 552.0 L309.82 557.4 L310.26 562.2 L310.70 566.4 L311.14 569.7 L311.58 572.1 L312.02 573.6 L312.46 574.1 L312.90 573.6 L313.34 572.2 L313.79 569.9 L314.23 566.8 L314.67 562.9 L315.12 558.4 L315.56 553.3 L316.00 547.9 L316.45 542.3 L316.89 536.5 L317.33 530.9 L317.77 525.5 L318.22 520.4 L318.66 515.9 L319.10 512.0 L319.55 508.9 L319.99 506.6 L320.43 505.2 L320.88 504.7 L321.32 505.1 L321.75 506.2 L322.19 508.1 L322.63 510.6 L323.07 513.7 L323.51 517.4 L323.95 521.5 L324.39 526.0 L324.82 530.7 L325.26 535.5 L325.70 540.4 L326.14 545.1 L326.58 549.6 L327.02 553.7 L327.46 557.4 L327.89 560.5 L328.33 563.0 L328.77 564.9 L329.21 566.0 L329.65 566.4 L330.11 566.0 L330.56 564.8 L331.02 562.8 L331.48 560.1 L331.93 556.8 L332.39 552.9 L332.85 548.5 L333.31 543.9 L333.76 539.0 L334.22 534.1 L334.68 529.2 L335.13 524.6 L335.59 520.2 L336.05 516.3 L336.51 513.0 L336.96 510.3 L337.42 508.3 L337.88 507.1 L338.33 506.7 L338.79 507.1 L339.25 508.4 L339.70 510.4 L340.16 513.3 L340.62 516.7 L341.08 520.8 L341.53 525.3 L341.99 530.2 L342.45 535.2 L342.90 540.4 L343.36 545.4 L343.82 550.3 L344.28 554.8 L344.73 558.9 L345.19 562.3 L345.65 565.2 L346.10 567.2 L346.56 568.5 L347.02 568.9 L347.46 568.5 L347.90 567.2 L348.35 565.2 L348.79 562.3 L349.23 558.9 L349.68 554.8 L350.12 550.2 L350.56 545.2 L351.00 540.0 L351.45 534.6 L351.89 529.2 L352.33 524.0 L352.78 519.0 L353.22 514.4 L353.66 510.3 L354.11 506.9 L354.55 504.0 L354.99 502.0 L355.43 500.7 L355.88 500.3 L356.33 500.8 L356.79 502.3 L357.25 504.8 L357.71 508.2 L358.16 512.4 L358.62 517.2 L359.08 522.7 L359.53 528.5 L359.99 534.6 L360.45 540.8 L360.90 546.9 L361.36 552.7 L361.82 558.2 L362.28 563.0 L362.73 567.2 L363.19 570.6 L363.65 573.1 L364.10 574.6 L364.56 575.1 L365.01 574.6 L365.46 573.1 L365.90 570.7 L366.35 567.4 L366.80 563.3 L367.25 558.4 L367.69 553.0 L368.14 547.2 L368.59 541.0 L369.04 534.7 L369.48 528.4 L369.93 522.2 L370.38 516.4 L370.82 511.0 L371.27 506.1 L371.72 502.0 L372.17 498.7 L372.61 496.3 L373.06 494.8 L373.51 494.3 L373.97 494.9 L374.42 496.8 L374.88 499.9 L375.34 504.1 L375.80 509.3 L376.26 515.3 L376.72 521.9 L377.17 529.0 L377.63 536.3 L378.09 543.6 L378.55 550.7 L379.01 557.3 L379.46 563.3 L379.92 568.5 L380.38 572.7 L380.84 575.8 L381.30 577.7 L381.75 578.3 L382.20 577.7 L382.65 576.0 L383.10 573.3 L383.55 569.5 L383.99 564.9 L384.44 559.4 L384.89 553.4 L385.34 546.9 L385.78 540.1 L386.23 533.2 L386.68 526.4 L387.13 519.9 L387.58 513.9 L388.02 508.4 L388.47 503.8 L388.92 500.0 L389.37 497.3 L389.82 495.6 L390.26 495.0 L390.71 495.6 L391.16 497.5 L391.61 500.6 L392.06 504.7 L392.50 509.8 L392.95 515.7 L393.40 522.3 L393.85 529.3 L394.30 536.4 L394.75 543.6 L395.19 550.6 L395.64 557.2 L396.09 563.1 L396.54 568.2 L396.99 572.3 L397.44 575.4 L397.88 577.3 L398.33 577.9 L398.78 577.3 L399.23 575.6 L399.68 572.8 L400.12 568.9 L400.57 564.2 L401.02 558.7 L401.47 552.5 L401.92 545.9 L402.36 539.0 L402.81 531.9 L403.26 525.0 L403.71 518.4 L404.16 512.2 L404.60 506.7 L405.05 502.0 L405.50 498.1 L405.95 495.3 L406.39 493.6 L406.84 493.0 L407.30 493.7 L407.76 495.7 L408.22 499.0 L408.67 503.5 L409.13 509.0 L409.59 515.4 L410.05 522.5 L410.51 530.1 L410.96 537.9 L411.42 545.7 L411.88 553.3 L412.34 560.3 L412.80 566.8 L413.26 572.3 L413.71 576.8 L414.17 580.1 L414.63 582.1 L415.09 582.8 L415.54 582.2 L415.98 580.3 L416.43 577.2 L416.88 572.9 L417.33 567.7 L417.77 561.6 L418.22 554.8 L418.67 547.5 L419.12 539.9 L419.57 532.2 L420.01 524.6 L420.46 517.3 L420.91 510.5 L421.36 504.4 L421.81 499.2 L422.25 494.9 L422.70 491.8 L423.15 489.9 L423.60 489.3 L424.04 489.9 L424.49 491.9 L424.94 495.0 L425.39 499.3 L425.84 504.5 L426.28 510.7 L426.73 517.6 L427.18 525.0 L427.63 532.6 L428.07 540.5 L428.52 548.1 L428.97 555.5 L429.42 562.4 L429.87 568.6 L430.31 573.8 L430.76 578.1 L431.21 581.2 L431.66 583.2 L432.11 583.8 L432.55 583.2 L432.99 581.4 L433.43 578.5 L433.88 574.5 L434.32 569.6 L434.76 563.8 L435.21 557.4 L435.65 550.5 L436.09 543.3 L436.54 536.0 L436.98 528.8 L437.42 521.9 L437.87 515.5 L438.31 509.7 L438.75 504.8 L439.20 500.8 L439.64 497.9 L440.08 496.1 L440.53 495.5 L440.96 496.0 L441.40 497.4 L441.84 499.7 L442.28 502.9 L442.72 506.9 L443.16 511.6 L443.60 516.8 L444.04 522.4 L444.47 528.4 L444.91 534.4 L445.35 540.5 L445.79 546.5 L446.23 552.1 L446.67 557.3 L447.11 562.0 L447.54 566.0 L447.98 569.2 L448.42 571.5 L448.86 572.9 L449.30 573.4 L449.76 572.9 L450.21 571.6 L450.67 569.3 L451.13 566.3 L451.58 562.5 L452.04 558.1 L452.50 553.2 L452.95 547.9 L453.41 542.4 L453.87 536.9 L454.33 531.4 L454.78 526.1 L455.24 521.2 L455.70 516.8 L456.15 513.0 L456.61 510.0 L457.07 507.7 L457.53 506.4 L457.98 505.9 L458.44 506.3 L458.90 507.5 L459.35 509.4 L459.81 512.0 L460.27 515.3 L460.72 519.1 L461.18 523.3 L461.64 527.9 L462.10 532.6 L462.55 537.5 L463.01 542.2 L463.47 546.8 L463.92 551.0 L464.38 554.8 L464.84 558.1 L465.30 560.7 L465.75 562.6 L466.21 563.8 L466.67 564.2 L467.12 563.8 L467.58 562.7 L468.04 560.8 L468.49 558.3 L468.95 555.1 L469.41 551.4 L469.87 547.3 L470.32 542.9 L470.78 538.3 L471.24 533.7 L471.69 529.1 L472.15 524.7 L472.61 520.6 L473.07 516.9 L473.52 513.7 L473.98 511.2 L474.44 509.3 L474.89 508.2 L475.35 507.8 L475.79 508.2 L476.23 509.3 L476.67 511.1 L477.11 513.7 L477.54 516.8 L477.98 520.4 L478.42 524.5 L478.86 529.0 L479.30 533.7 L479.74 538.5 L480.18 543.2 L480.61 547.9 L481.05 552.4 L481.49 556.5 L481.93 560.1 L482.37 563.2 L482.81 565.8 L483.25 567.6 L483.68 568.7 L484.12 569.1 L484.57 568.7 L485.01 567.4 L485.45 565.3 L485.89 562.4 L486.34 558.9 L486.78 554.7 L487.22 550.0 L487.67 545.0 L488.11 539.6 L488.55 534.1 L489.00 528.7 L489.44 523.3 L489.88 518.3 L490.32 513.6 L490.77 509.4 L491.21 505.9 L491.65 503.0 L492.10 500.9 L492.54 499.6 L492.98 499.2 L493.44 499.7 L493.90 501.3 L494.35 503.9 L494.81 507.5 L495.27 511.9 L495.72 517.0 L496.18 522.7 L496.64 528.9 L497.10 535.3 L497.55 541.8 L498.01 548.2 L498.47 554.4 L498.92 560.1 L499.38 565.2 L499.84 569.6 L500.30 573.2 L500.75 575.8 L501.21 577.4 L501.67 577.9 L502.11 577.4 L502.55 575.8 L503.00 573.2 L503.44 569.6 L503.88 565.2 L504.32 560.1 L504.77 554.3 L505.21 548.0 L505.65 541.4 L506.10 534.6 L506.54 527.9 L506.98 521.3 L507.43 515.0 L507.87 509.2 L508.31 504.1 L508.75 499.7 L509.20 496.1 L509.64 493.5 L510.08 491.9 L510.53 491.4 L510.97 492.1 L511.41 494.1 L511.86 497.5 L512.30 502.0 L512.74 507.5 L513.19 514.0 L513.63 521.1 L514.07 528.8 L514.52 536.6 L514.96 544.4 L515.40 552.1 L515.85 559.2 L516.29 565.7 L516.73 571.2 L517.18 575.7 L517.62 579.1 L518.07 581.1 L518.51 581.8 L518.96 581.3 L519.40 579.6 L519.85 577.0 L520.30 573.4 L520.75 568.9 L521.19 563.6 L521.64 557.7 L522.09 551.4 L522.54 544.6 L522.98 537.8 L523.43 530.9 L523.88 524.1 L524.32 517.8 L524.77 511.9 L525.22 506.6 L525.67 502.1 L526.11 498.5 L526.56 495.9 L527.01 494.2 L527.46 493.7 L527.89 494.3 L528.33 496.3 L528.77 499.4 L529.21 503.7 L529.65 509.0 L530.09 515.0 L530.53 521.8 L530.96 529.0 L531.40 536.4 L531.84 543.8 L532.28 551.0 L532.72 557.8 L533.16 563.8 L533.60 569.1 L534.04 573.4 L534.47 576.5 L534.91 578.5 L535.35 579.1 L535.80 578.5 L536.26 576.8 L536.71 574.0 L537.16 570.2 L537.61 565.5 L538.07 560.0 L538.52 553.9 L538.97 547.3 L539.42 540.4 L539.88 533.5 L540.33 526.6 L540.78 520.0 L541.23 513.9 L541.69 508.4 L542.14 503.7 L542.59 499.9 L543.04 497.1 L543.49 495.4 L543.95 494.8 L544.40 495.5 L544.86 497.7 L545.31 501.3 L545.76 506.1 L546.22 512.0 L546.67 518.8 L547.13 526.2 L547.58 534.1 L548.03 542.0 L548.49 549.9 L548.94 557.3 L549.40 564.1 L549.85 570.0 L550.30 574.8 L550.76 578.4 L551.21 580.6 L551.67 581.3 L552.11 580.8 L552.56 579.1 L553.01 576.4 L553.46 572.8 L553.90 568.2 L554.35 562.9 L554.80 556.9 L555.25 550.5 L555.69 543.7 L556.14 536.7 L556.59 529.7 L557.04 522.9 L557.48 516.5 L557.93 510.5 L558.38 505.2 L558.82 500.6 L559.27 497.0 L559.72 494.3 L560.17 492.6 L560.61 492.1 L561.07 492.8 L561.52 494.8 L561.97 498.1 L562.43 502.5 L562.88 508.0 L563.33 514.4 L563.79 521.4 L564.24 529.0 L564.69 536.7 L565.15 544.4 L565.60 552.0 L566.05 559.0 L566.51 565.4 L566.96 570.9 L567.41 575.3 L567.87 578.6 L568.32 580.6 L568.77 581.3 L569.21 580.8 L569.66 579.4 L570.10 577.1 L570.54 574.0 L570.99 570.1 L571.43 565.4 L571.87 560.2 L572.31 554.6 L572.76 548.6 L573.20 542.3 L573.64 536.1 L574.09 529.8 L574.53 523.8 L574.97 518.1 L575.41 513.0 L575.86 508.3 L576.30 504.4 L576.74 501.3 L577.18 499.0 L577.63 497.6 L578.07 497.1 L578.51 497.6 L578.95 499.2 L579.39 501.8 L579.82 505.3 L580.26 509.7 L580.70 514.7 L581.14 520.4 L581.58 526.5 L582.02 532.8 L582.46 539.3 L582.89 545.6 L583.33 551.7 L583.77 557.4 L584.21 562.4 L584.65 566.8 L585.09 570.3 L585.53 572.9 L585.96 574.5 L586.40 575.0" fill="none" stroke="#0000ff" stroke-width="4.0" stroke-linejoin="round"/></g>
<g clip-path="url(#c2)"><path transform="scale(1.140 1)" d="M82.89 535.8 L83.07 541.5 L83.25 547.1 L83.43 552.7 L83.61 558.3 L83.79 563.8 L83.96 569.2 L84.14 574.6 L84.32 579.8 L84.50 584.9 L84.68 589.9 L84.86 594.7 L85.04 599.4 L85.21 603.9 L85.39 608.2 L85.57 612.3 L85.75 616.2 L85.93 619.9 L86.11 623.3 L86.28 626.5 L86.46 629.5 L86.64 632.2 L86.82 634.6 L87.00 636.8 L87.18 638.7 L87.35 640.3 L87.53 641.6 L87.71 642.7 L87.89 643.4 L88.07 643.9 L88.25 644.0 L88.59 643.7 L88.94 642.8 L89.29 641.3 L89.64 639.3 L89.99 636.7 L90.33 633.6 L90.68 630.0 L91.03 626.0 L91.38 621.6 L91.73 616.8 L92.07 611.7 L92.42 606.4 L92.77 600.9 L93.12 595.3 L93.46 589.6 L93.81 583.9 L94.16 578.2 L94.51 572.7 L94.86 567.4 L95.20 562.3 L95.55 557.6 L95.90 553.1 L96.25 549.1 L96.60 545.5 L96.94 542.4 L97.29 539.8 L97.64 537.8 L97.99 536.3 L98.34 535.4 L98.68 535.1 L99.14 535.3 L99.59 535.8 L100.04 536.5 L100.49 537.6 L100.95 538.9 L101.40 540.5 L101.85 542.2 L102.30 544.0 L102.76 546.0 L103.21 547.9 L103.66 549.9 L104.11 551.7 L104.57 553.4 L105.02 555.0 L105.47 556.3 L105.92 557.4 L106.38 558.1 L106.83 558.6 L107.28 558.8 L107.73 558.5 L108.18 557.8 L108.64 556.6 L109.09 555.0 L109.54 552.9 L109.99 550.6 L110.44 547.9 L110.89 545.0 L111.35 541.9 L111.80 538.8 L112.25 535.7 L112.70 532.6 L113.15 529.8 L113.61 527.1 L114.06 524.7 L114.51 522.7 L114.96 521.0 L115.41 519.8 L115.86 519.1 L116.32 518.8 L116.75 519.1 L117.19 519.8 L117.63 521.0 L118.07 522.7 L118.51 524.7 L118.95 527.1 L119.39 529.7 L119.82 532.6 L120.26 535.5 L120.70 538.6 L121.14 541.5 L121.58 544.4 L122.02 547.0 L122.46 549.4 L122.89 551.4 L123.33 553.1 L123.77 554.3 L124.21 555.0 L124.65 555.2 L125.11 554.9 L125.57 554.0 L126.02 552.4 L126.48 550.3 L126.94 547.7 L127.40 544.7 L127.86 541.4 L128.31 537.9 L128.77 534.2 L129.23 530.6 L129.69 527.0 L130.15 523.7 L130.60 520.7 L131.06 518.1 L131.52 516.0 L131.98 514.4 L132.44 513.5 L132.89 513.2 L133.34 513.5 L133.79 514.4 L134.24 516.0 L134.69 518.1 L135.13 520.7 L135.58 523.7 L136.03 527.1 L136.48 530.7 L136.93 534.5 L137.37 538.4 L137.82 542.2 L138.27 545.8 L138.72 549.2 L139.16 552.2 L139.61 554.8 L140.06 556.9 L140.51 558.5 L140.96 559.4 L141.40 559.7 L141.85 559.4 L142.30 558.4 L142.75 556.7 L143.19 554.5 L143.64 551.7 L144.09 548.4 L144.54 544.8 L144.99 540.9 L145.43 536.8 L145.88 532.7 L146.33 528.6 L146.78 524.7 L147.23 521.1 L147.67 517.9 L148.12 515.1 L148.57 512.8 L149.02 511.2 L149.46 510.1 L149.91 509.8 L150.37 510.2 L150.83 511.2 L151.28 512.9 L151.74 515.3 L152.20 518.2 L152.65 521.6 L153.11 525.4 L153.57 529.5 L154.03 533.7 L154.48 538.0 L154.94 542.3 L155.40 546.4 L155.85 550.1 L156.31 553.5 L156.77 556.5 L157.23 558.8 L157.68 560.5 L158.14 561.6 L158.60 562.0 L159.04 561.6 L159.49 560.6 L159.94 559.0 L160.39 556.8 L160.84 554.0 L161.28 550.8 L161.73 547.3 L162.18 543.4 L162.63 539.4 L163.07 535.4 L163.52 531.4 L163.97 527.5 L164.42 523.9 L164.87 520.7 L165.31 518.0 L165.76 515.8 L166.21 514.1 L166.66 513.2 L167.11 512.8 L167.56 513.1 L168.02 514.1 L168.48 515.8 L168.94 518.0 L169.40 520.7 L169.85 523.8 L170.31 527.3 L170.77 531.0 L171.23 534.8 L171.69 538.6 L172.14 542.3 L172.60 545.8 L173.06 548.9 L173.52 551.6 L173.98 553.8 L174.43 555.4 L174.89 556.4 L175.35 556.8 L175.81 556.5 L176.27 555.7 L176.72 554.4 L177.18 552.7 L177.64 550.6 L178.09 548.1 L178.55 545.3 L179.01 542.3 L179.46 539.1 L179.92 536.0 L180.38 532.8 L180.84 529.8 L181.29 527.0 L181.75 524.5 L182.21 522.4 L182.66 520.6 L183.12 519.4 L183.58 518.6 L184.04 518.3 L184.49 518.6 L184.95 519.4 L185.41 520.6 L185.87 522.4 L186.33 524.5 L186.78 526.9 L187.24 529.7 L187.70 532.6 L188.16 535.5 L188.62 538.5 L189.07 541.4 L189.53 544.1 L189.99 546.6 L190.45 548.7 L190.91 550.4 L191.36 551.7 L191.82 552.5 L192.28 552.8 L192.73 552.5 L193.18 551.8 L193.62 550.7 L194.07 549.2 L194.52 547.3 L194.97 545.2 L195.42 542.7 L195.86 540.1 L196.31 537.4 L196.76 534.6 L197.21 531.9 L197.65 529.3 L198.10 526.8 L198.55 524.7 L199.00 522.8 L199.45 521.3 L199.89 520.2 L200.34 519.5 L200.79 519.3 L201.25 519.5 L201.70 520.2 L202.16 521.4 L202.62 522.9 L203.07 524.9 L203.53 527.1 L203.99 529.6 L204.45 532.3 L204.90 535.2 L205.36 538.0 L205.82 540.9 L206.27 543.6 L206.73 546.1 L207.19 548.4 L207.65 550.3 L208.10 551.9 L208.56 553.0 L209.02 553.7 L209.47 553.9 L209.92 553.7 L210.36 553.1 L210.80 552.1 L211.24 550.8 L211.69 549.1 L212.13 547.1 L212.57 544.8 L213.02 542.3 L213.46 539.7 L213.90 537.0 L214.34 534.3 L214.79 531.6 L215.23 529.0 L215.67 526.5 L216.12 524.2 L216.56 522.2 L217.00 520.5 L217.44 519.2 L217.89 518.2 L218.33 517.5 L218.77 517.3 L219.22 517.6 L219.67 518.4 L220.12 519.6 L220.56 521.4 L221.01 523.5 L221.46 526.0 L221.91 528.8 L222.35 531.8 L222.80 534.9 L223.25 538.1 L223.70 541.2 L224.15 544.2 L224.59 546.9 L225.04 549.4 L225.49 551.6 L225.94 553.3 L226.39 554.6 L226.83 555.4 L227.28 555.6 L227.73 555.4 L228.18 554.6 L228.62 553.5 L229.07 551.8 L229.52 549.8 L229.96 547.5 L230.41 544.8 L230.86 542.0 L231.31 539.0 L231.75 535.9 L232.20 532.8 L232.65 529.8 L233.10 526.9 L233.54 524.3 L233.99 521.9 L234.44 519.9 L234.89 518.3 L235.33 517.1 L235.78 516.4 L236.23 516.1 L236.68 516.4 L237.12 517.2 L237.57 518.5 L238.02 520.3 L238.47 522.6 L238.92 525.2 L239.36 528.1 L239.81 531.2 L240.26 534.4 L240.71 537.7 L241.15 540.9 L241.60 544.1 L242.05 547.0 L242.50 549.5 L242.95 551.8 L243.39 553.6 L243.84 554.9 L244.29 555.7 L244.74 556.0 L245.19 555.7 L245.65 554.9 L246.11 553.6 L246.57 551.7 L247.02 549.5 L247.48 546.9 L247.94 544.0 L248.39 540.9 L248.85 537.6 L249.31 534.3 L249.76 531.0 L250.22 527.9 L250.68 525.0 L251.14 522.4 L251.59 520.1 L252.05 518.3 L252.51 517.0 L252.96 516.2 L253.42 515.9 L253.88 516.2 L254.34 517.1 L254.80 518.6 L255.25 520.7 L255.71 523.2 L256.17 526.2 L256.63 529.4 L257.09 532.9 L257.54 536.4 L258.00 540.0 L258.46 543.5 L258.92 546.7 L259.38 549.7 L259.83 552.2 L260.29 554.3 L260.75 555.8 L261.21 556.7 L261.67 557.0 L262.11 556.7 L262.54 555.8 L262.98 554.4 L263.42 552.4 L263.86 550.0 L264.30 547.2 L264.74 544.0 L265.18 540.6 L265.61 537.1 L266.05 533.5 L266.49 529.9 L266.93 526.5 L267.37 523.4 L267.81 520.6 L268.25 518.1 L268.68 516.2 L269.12 514.7 L269.56 513.8 L270.00 513.5 L270.45 513.9 L270.90 514.8 L271.34 516.4 L271.79 518.5 L272.24 521.1 L272.69 524.2 L273.13 527.6 L273.58 531.3 L274.03 535.1 L274.48 539.0 L274.93 542.8 L275.37 546.5 L275.82 549.9 L276.27 552.9 L276.72 555.5 L277.17 557.7 L277.61 559.2 L278.06 560.2 L278.51 560.5 L278.97 560.1 L279.42 559.0 L279.88 557.2 L280.34 554.7 L280.80 551.6 L281.26 548.1 L281.72 544.1 L282.17 539.9 L282.63 535.6 L283.09 531.3 L283.55 527.1 L284.01 523.2 L284.46 519.6 L284.92 516.6 L285.38 514.1 L285.84 512.2 L286.30 511.1 L286.75 510.7 L287.21 511.1 L287.67 512.1 L288.13 513.8 L288.58 516.1 L289.04 518.9 L289.50 522.2 L289.95 525.9 L290.41 529.8 L290.87 534.0 L291.33 538.2 L291.78 542.3 L292.24 546.2 L292.70 549.9 L293.15 553.2 L293.61 556.0 L294.07 558.3 L294.52 560.0 L294.98 561.0 L295.44 561.4 L295.90 561.0 L296.35 559.9 L296.81 558.2 L297.27 555.8 L297.73 552.8 L298.19 549.4 L298.65 545.6 L299.10 541.6 L299.56 537.5 L300.02 533.3 L300.48 529.3 L300.94 525.5 L301.39 522.1 L301.85 519.1 L302.31 516.7 L302.77 515.0 L303.23 513.9 L303.68 513.5 L304.12 513.8 L304.56 514.6 L305.00 515.8 L305.44 517.6 L305.88 519.7 L306.32 522.2 L306.75 525.1 L307.19 528.1 L307.63 531.3 L308.07 534.6 L308.51 537.9 L308.95 541.1 L309.39 544.2 L309.82 547.0 L310.26 549.5 L310.70 551.7 L311.14 553.4 L311.58 554.7 L312.02 555.5 L312.46 555.7 L312.90 555.5 L313.34 554.7 L313.79 553.5 L314.23 551.9 L314.67 549.9 L315.12 547.5 L315.56 544.9 L316.00 542.1 L316.45 539.2 L316.89 536.2 L317.33 533.2 L317.77 530.4 L318.22 527.8 L318.66 525.5 L319.10 523.4 L319.55 521.8 L319.99 520.6 L320.43 519.9 L320.88 519.6 L321.32 519.8 L321.75 520.4 L322.19 521.4 L322.63 522.7 L323.07 524.3 L323.51 526.2 L323.95 528.4 L324.39 530.7 L324.82 533.2 L325.26 535.7 L325.70 538.2 L326.14 540.6 L326.58 543.0 L327.02 545.1 L327.46 547.0 L327.89 548.6 L328.33 550.0 L328.77 550.9 L329.21 551.5 L329.65 551.7 L330.11 551.5 L330.56 550.9 L331.02 549.8 L331.48 548.4 L331.93 546.7 L332.39 544.7 L332.85 542.4 L333.31 540.0 L333.76 537.5 L334.22 534.9 L334.68 532.4 L335.13 530.0 L335.59 527.7 L336.05 525.7 L336.51 523.9 L336.96 522.5 L337.42 521.5 L337.88 520.9 L338.33 520.7 L338.79 520.9 L339.25 521.5 L339.70 522.6 L340.16 524.1 L340.62 525.9 L341.08 528.0 L341.53 530.3 L341.99 532.9 L342.45 535.5 L342.90 538.2 L343.36 540.8 L343.82 543.3 L344.28 545.7 L344.73 547.8 L345.19 549.6 L345.65 551.1 L346.10 552.1 L346.56 552.8 L347.02 553.0 L347.46 552.8 L347.90 552.1 L348.35 551.1 L348.79 549.6 L349.23 547.8 L349.68 545.7 L350.12 543.3 L350.56 540.7 L351.00 538.0 L351.45 535.2 L351.89 532.4 L352.33 529.7 L352.78 527.1 L353.22 524.7 L353.66 522.6 L354.11 520.7 L354.55 519.3 L354.99 518.2 L355.43 517.6 L355.88 517.3 L356.33 517.6 L356.79 518.4 L357.25 519.7 L357.71 521.4 L358.16 523.6 L358.62 526.2 L359.08 529.0 L359.53 532.0 L359.99 535.2 L360.45 538.4 L360.90 541.6 L361.36 544.6 L361.82 547.4 L362.28 550.0 L362.73 552.1 L363.19 553.9 L363.65 555.2 L364.10 556.0 L364.56 556.2 L365.01 556.0 L365.46 555.2 L365.90 553.9 L366.35 552.2 L366.80 550.1 L367.25 547.6 L367.69 544.8 L368.14 541.7 L368.59 538.5 L369.04 535.2 L369.48 531.9 L369.93 528.7 L370.38 525.7 L370.82 522.9 L371.27 520.4 L371.72 518.2 L372.17 516.5 L372.61 515.2 L373.06 514.5 L373.51 514.2 L373.97 514.6 L374.42 515.5 L374.88 517.1 L375.34 519.3 L375.80 522.0 L376.26 525.1 L376.72 528.6 L377.17 532.3 L377.63 536.1 L378.09 539.9 L378.55 543.5 L379.01 547.0 L379.46 550.1 L379.92 552.8 L380.38 555.0 L380.84 556.6 L381.30 557.6 L381.75 557.9 L382.20 557.6 L382.65 556.7 L383.10 555.3 L383.55 553.3 L383.99 550.9 L384.44 548.1 L384.89 544.9 L385.34 541.6 L385.78 538.0 L386.23 534.5 L386.68 530.9 L387.13 527.5 L387.58 524.4 L388.02 521.6 L388.47 519.2 L388.92 517.2 L389.37 515.8 L389.82 514.9 L390.26 514.6 L390.71 514.9 L391.16 515.9 L391.61 517.5 L392.06 519.6 L392.50 522.3 L392.95 525.4 L393.40 528.8 L393.85 532.4 L394.30 536.1 L394.75 539.9 L395.19 543.5 L395.64 546.9 L396.09 550.0 L396.54 552.6 L396.99 554.8 L397.44 556.4 L397.88 557.4 L398.33 557.7 L398.78 557.4 L399.23 556.5 L399.68 555.0 L400.12 553.0 L400.57 550.6 L401.02 547.7 L401.47 544.5 L401.92 541.0 L402.36 537.4 L402.81 533.8 L403.26 530.2 L403.71 526.8 L404.16 523.5 L404.60 520.7 L405.05 518.2 L405.50 516.2 L405.95 514.7 L406.39 513.8 L406.84 513.5 L407.30 513.9 L407.76 515.0 L408.22 516.7 L408.67 519.0 L409.13 521.9 L409.59 525.2 L410.05 528.9 L410.51 532.8 L410.96 536.9 L411.42 540.9 L411.88 544.9 L412.34 548.6 L412.80 551.9 L413.26 554.8 L413.71 557.1 L414.17 558.8 L414.63 559.9 L415.09 560.2 L415.54 559.9 L415.98 558.9 L416.43 557.3 L416.88 555.1 L417.33 552.4 L417.77 549.2 L418.22 545.7 L418.67 541.9 L419.12 537.9 L419.57 533.9 L420.01 530.0 L420.46 526.2 L420.91 522.6 L421.36 519.5 L421.81 516.7 L422.25 514.5 L422.70 512.9 L423.15 512.0 L423.60 511.6 L424.04 512.0 L424.49 513.0 L424.94 514.6 L425.39 516.8 L425.84 519.5 L426.28 522.8 L426.73 526.3 L427.18 530.2 L427.63 534.2 L428.07 538.2 L428.52 542.2 L428.97 546.1 L429.42 549.6 L429.87 552.8 L430.31 555.6 L430.76 557.8 L431.21 559.4 L431.66 560.4 L432.11 560.8 L432.55 560.4 L432.99 559.5 L433.43 558.0 L433.88 555.9 L434.32 553.4 L434.76 550.4 L435.21 547.0 L435.65 543.4 L436.09 539.7 L436.54 535.9 L436.98 532.2 L437.42 528.6 L437.87 525.2 L438.31 522.3 L438.75 519.7 L439.20 517.6 L439.64 516.1 L440.08 515.2 L440.53 514.8 L440.96 515.1 L441.40 515.8 L441.84 517.1 L442.28 518.7 L442.72 520.8 L443.16 523.2 L443.60 525.9 L444.04 528.8 L444.47 531.9 L444.91 535.1 L445.35 538.3 L445.79 541.4 L446.23 544.3 L446.67 547.0 L447.11 549.4 L447.54 551.5 L447.98 553.1 L448.42 554.4 L448.86 555.1 L449.30 555.4 L449.76 555.1 L450.21 554.4 L450.67 553.2 L451.13 551.7 L451.58 549.7 L452.04 547.4 L452.50 544.9 L452.95 542.1 L453.41 539.3 L453.87 536.4 L454.33 533.5 L454.78 530.8 L455.24 528.2 L455.70 525.9 L456.15 524.0 L456.61 522.4 L457.07 521.2 L457.53 520.5 L457.98 520.3 L458.44 520.5 L458.90 521.1 L459.35 522.1 L459.81 523.4 L460.27 525.1 L460.72 527.1 L461.18 529.3 L461.64 531.7 L462.10 534.2 L462.55 536.7 L463.01 539.1 L463.47 541.5 L463.92 543.7 L464.38 545.7 L464.84 547.4 L465.30 548.7 L465.75 549.7 L466.21 550.4 L466.67 550.6 L467.12 550.4 L467.58 549.8 L468.04 548.8 L468.49 547.5 L468.95 545.8 L469.41 543.9 L469.87 541.8 L470.32 539.5 L470.78 537.1 L471.24 534.7 L471.69 532.3 L472.15 530.0 L472.61 527.9 L473.07 526.0 L473.52 524.3 L473.98 523.0 L474.44 522.0 L474.89 521.4 L475.35 521.2 L475.79 521.4 L476.23 522.0 L476.67 523.0 L477.11 524.3 L477.54 525.9 L477.98 527.8 L478.42 529.9 L478.86 532.3 L479.30 534.7 L479.74 537.2 L480.18 539.7 L480.61 542.1 L481.05 544.4 L481.49 546.5 L481.93 548.4 L482.37 550.1 L482.81 551.4 L483.25 552.3 L483.68 552.9 L484.12 553.1 L484.57 552.9 L485.01 552.2 L485.45 551.1 L485.89 549.6 L486.34 547.8 L486.78 545.6 L487.22 543.2 L487.67 540.6 L488.11 537.8 L488.55 534.9 L489.00 532.1 L489.44 529.3 L489.88 526.7 L490.32 524.3 L490.77 522.1 L491.21 520.2 L491.65 518.7 L492.10 517.7 L492.54 517.0 L492.98 516.8 L493.44 517.0 L493.90 517.9 L494.35 519.2 L494.81 521.1 L495.27 523.4 L495.72 526.0 L496.18 529.0 L496.64 532.2 L497.10 535.5 L497.55 538.9 L498.01 542.3 L498.47 545.4 L498.92 548.4 L499.38 551.1 L499.84 553.4 L500.30 555.2 L500.75 556.6 L501.21 557.4 L501.67 557.7 L502.11 557.4 L502.55 556.6 L503.00 555.2 L503.44 553.4 L503.88 551.1 L504.32 548.4 L504.77 545.4 L505.21 542.2 L505.65 538.7 L506.10 535.2 L506.54 531.7 L506.98 528.3 L507.43 525.0 L507.87 522.0 L508.31 519.3 L508.75 517.0 L509.20 515.2 L509.64 513.8 L510.08 513.0 L510.53 512.7 L510.97 513.1 L511.41 514.1 L511.86 515.9 L512.30 518.2 L512.74 521.1 L513.19 524.5 L513.63 528.2 L514.07 532.1 L514.52 536.2 L514.96 540.3 L515.40 544.3 L515.85 548.0 L516.29 551.3 L516.73 554.2 L517.18 556.6 L517.62 558.3 L518.07 559.4 L518.51 559.7 L518.96 559.4 L519.40 558.6 L519.85 557.2 L520.30 555.3 L520.75 553.0 L521.19 550.3 L521.64 547.2 L522.09 543.9 L522.54 540.4 L522.98 536.8 L523.43 533.2 L523.88 529.7 L524.32 526.4 L524.77 523.4 L525.22 520.6 L525.67 518.3 L526.11 516.4 L526.56 515.0 L527.01 514.2 L527.46 513.9 L527.89 514.2 L528.33 515.2 L528.77 516.9 L529.21 519.1 L529.65 521.8 L530.09 525.0 L530.53 528.5 L530.96 532.3 L531.40 536.1 L531.84 540.0 L532.28 543.7 L532.72 547.2 L533.16 550.4 L533.60 553.1 L534.04 555.3 L534.47 557.0 L534.91 558.0 L535.35 558.3 L535.80 558.0 L536.26 557.1 L536.71 555.7 L537.16 553.7 L537.61 551.2 L538.07 548.4 L538.52 545.2 L538.97 541.8 L539.42 538.2 L539.88 534.6 L540.33 531.0 L540.78 527.6 L541.23 524.4 L541.69 521.6 L542.14 519.1 L542.59 517.1 L543.04 515.7 L543.49 514.8 L543.95 514.5 L544.40 514.9 L544.86 516.0 L545.31 517.8 L545.76 520.3 L546.22 523.4 L546.67 526.9 L547.13 530.8 L547.58 534.9 L548.03 539.0 L548.49 543.1 L548.94 547.0 L549.40 550.5 L549.85 553.6 L550.30 556.1 L550.76 557.9 L551.21 559.1 L551.67 559.5 L552.11 559.2 L552.56 558.3 L553.01 556.9 L553.46 555.0 L553.90 552.7 L554.35 549.9 L554.80 546.8 L555.25 543.4 L555.69 539.9 L556.14 536.3 L556.59 532.6 L557.04 529.1 L557.48 525.7 L557.93 522.6 L558.38 519.9 L558.82 517.5 L559.27 515.6 L559.72 514.2 L560.17 513.4 L560.61 513.1 L561.07 513.4 L561.52 514.5 L561.97 516.2 L562.43 518.5 L562.88 521.4 L563.33 524.7 L563.79 528.3 L564.24 532.2 L564.69 536.3 L565.15 540.3 L565.60 544.2 L566.05 547.9 L566.51 551.2 L566.96 554.0 L567.41 556.4 L567.87 558.1 L568.32 559.1 L568.77 559.5 L569.21 559.2 L569.66 558.5 L570.10 557.3 L570.54 555.7 L570.99 553.6 L571.43 551.2 L571.87 548.5 L572.31 545.6 L572.76 542.4 L573.20 539.2 L573.64 535.9 L574.09 532.7 L574.53 529.6 L574.97 526.6 L575.41 523.9 L575.86 521.5 L576.30 519.5 L576.74 517.8 L577.18 516.6 L577.63 515.9 L578.07 515.7 L578.51 516.0 L578.95 516.8 L579.39 518.1 L579.82 519.9 L580.26 522.2 L580.70 524.9 L581.14 527.8 L581.58 531.0 L582.02 534.3 L582.46 537.6 L582.89 540.9 L583.33 544.1 L583.77 547.0 L584.21 549.6 L584.65 551.9 L585.09 553.7 L585.53 555.1 L585.96 555.9 L586.40 556.2" fill="none" stroke="#00ff00" stroke-width="3.8" stroke-linejoin="round"/></g>
<g clip-path="url(#c2)"><path transform="scale(1.140 1)" d="M82.89 535.8 L83.07 536.9 L83.25 538.0 L83.43 539.1 L83.61 540.2 L83.79 541.2 L83.96 542.3 L84.14 543.3 L84.32 544.3 L84.50 545.3 L84.68 546.3 L84.86 547.2 L85.04 548.1 L85.21 549.0 L85.39 549.9 L85.57 550.6 L85.75 551.4 L85.93 552.1 L86.11 552.8 L86.28 553.4 L86.46 554.0 L86.64 554.5 L86.82 555.0 L87.00 555.4 L87.18 555.8 L87.35 556.1 L87.53 556.3 L87.71 556.5 L87.89 556.7 L88.07 556.8 L88.25 556.8 L88.62 556.7 L89.00 556.6 L89.38 556.3 L89.75 555.9 L90.13 555.4 L90.51 554.7 L90.89 554.0 L91.26 553.2 L91.64 552.3 L92.02 551.4 L92.39 550.4 L92.77 549.3 L93.15 548.2 L93.53 547.1 L93.90 546.0 L94.28 544.9 L94.66 543.8 L95.04 542.7 L95.41 541.6 L95.79 540.6 L96.17 539.7 L96.54 538.8 L96.92 538.0 L97.30 537.3 L97.68 536.6 L98.05 536.1 L98.43 535.7 L98.81 535.4 L99.18 535.3 L99.56 535.2 L100.02 535.2 L100.47 535.3 L100.92 535.5 L101.38 535.8 L101.83 536.1 L102.29 536.4 L102.74 536.8 L103.19 537.2 L103.65 537.6 L104.10 538.0 L104.56 538.3 L105.01 538.7 L105.46 539.0 L105.92 539.2 L106.37 539.4 L106.83 539.5 L107.28 539.6 L107.73 539.5 L108.18 539.4 L108.64 539.2 L109.09 538.9 L109.54 538.6 L109.99 538.2 L110.44 537.8 L110.89 537.3 L111.35 536.8 L111.80 536.3 L112.25 535.8 L112.70 535.3 L113.15 534.8 L113.61 534.4 L114.06 534.0 L114.51 533.7 L114.96 533.4 L115.41 533.2 L115.86 533.1 L116.32 533.0 L116.75 533.1 L117.19 533.2 L117.63 533.4 L118.07 533.7 L118.51 534.0 L118.95 534.4 L119.39 534.8 L119.82 535.3 L120.26 535.8 L120.70 536.2 L121.14 536.7 L121.58 537.2 L122.02 537.6 L122.46 538.0 L122.89 538.4 L123.33 538.6 L123.77 538.8 L124.21 538.9 L124.65 539.0 L125.11 538.9 L125.57 538.8 L126.02 538.5 L126.48 538.2 L126.94 537.8 L127.40 537.3 L127.86 536.7 L128.31 536.1 L128.77 535.5 L129.23 534.9 L129.69 534.4 L130.15 533.8 L130.60 533.3 L131.06 532.9 L131.52 532.6 L131.98 532.3 L132.44 532.2 L132.89 532.1 L133.34 532.2 L133.79 532.3 L134.24 532.6 L134.69 532.9 L135.13 533.3 L135.58 533.8 L136.03 534.4 L136.48 535.0 L136.93 535.6 L137.37 536.2 L137.82 536.8 L138.27 537.4 L138.72 538.0 L139.16 538.5 L139.61 538.9 L140.06 539.3 L140.51 539.5 L140.96 539.7 L141.40 539.7 L141.85 539.7 L142.30 539.5 L142.75 539.2 L143.19 538.8 L143.64 538.4 L144.09 537.9 L144.54 537.3 L144.99 536.6 L145.43 536.0 L145.88 535.3 L146.33 534.6 L146.78 534.0 L147.23 533.4 L147.67 532.9 L148.12 532.4 L148.57 532.0 L149.02 531.8 L149.46 531.6 L149.91 531.5 L150.37 531.6 L150.83 531.8 L151.28 532.1 L151.74 532.4 L152.20 532.9 L152.65 533.5 L153.11 534.1 L153.57 534.8 L154.03 535.5 L154.48 536.2 L154.94 536.9 L155.40 537.5 L155.85 538.1 L156.31 538.7 L156.77 539.2 L157.23 539.6 L157.68 539.8 L158.14 540.0 L158.60 540.1 L159.04 540.0 L159.49 539.9 L159.94 539.6 L160.39 539.2 L160.84 538.8 L161.28 538.3 L161.73 537.7 L162.18 537.0 L162.63 536.4 L163.07 535.7 L163.52 535.1 L163.97 534.4 L164.42 533.9 L164.87 533.3 L165.31 532.9 L165.76 532.5 L166.21 532.3 L166.66 532.1 L167.11 532.0 L167.56 532.1 L168.02 532.3 L168.48 532.5 L168.94 532.9 L169.40 533.3 L169.85 533.8 L170.31 534.4 L170.77 535.0 L171.23 535.6 L171.69 536.3 L172.14 536.9 L172.60 537.4 L173.06 537.9 L173.52 538.4 L173.98 538.7 L174.43 539.0 L174.89 539.2 L175.35 539.2 L175.81 539.2 L176.27 539.1 L176.72 538.8 L177.18 538.6 L177.64 538.2 L178.09 537.8 L178.55 537.3 L179.01 536.9 L179.46 536.3 L179.92 535.8 L180.38 535.3 L180.84 534.8 L181.29 534.4 L181.75 534.0 L182.21 533.6 L182.66 533.3 L183.12 533.1 L183.58 533.0 L184.04 532.9 L184.49 533.0 L184.95 533.1 L185.41 533.3 L185.87 533.6 L186.33 533.9 L186.78 534.4 L187.24 534.8 L187.70 535.3 L188.16 535.8 L188.62 536.2 L189.07 536.7 L189.53 537.2 L189.99 537.6 L190.45 537.9 L190.91 538.2 L191.36 538.4 L191.82 538.5 L192.28 538.6 L192.73 538.5 L193.18 538.4 L193.62 538.2 L194.07 538.0 L194.52 537.7 L194.97 537.3 L195.42 536.9 L195.86 536.5 L196.31 536.1 L196.76 535.6 L197.21 535.2 L197.65 534.7 L198.10 534.3 L198.55 534.0 L199.00 533.7 L199.45 533.4 L199.89 533.2 L200.34 533.1 L200.79 533.1 L201.25 533.1 L201.70 533.3 L202.16 533.4 L202.62 533.7 L203.07 534.0 L203.53 534.4 L203.99 534.8 L204.45 535.2 L204.90 535.7 L205.36 536.2 L205.82 536.6 L206.27 537.1 L206.73 537.5 L207.19 537.9 L207.65 538.2 L208.10 538.4 L208.56 538.6 L209.02 538.7 L209.47 538.8 L209.92 538.7 L210.36 538.6 L210.80 538.5 L211.24 538.2 L211.69 538.0 L212.13 537.6 L212.57 537.3 L213.02 536.9 L213.46 536.4 L213.90 536.0 L214.34 535.6 L214.79 535.1 L215.23 534.7 L215.67 534.3 L216.12 533.9 L216.56 533.6 L217.00 533.3 L217.44 533.1 L217.89 532.9 L218.33 532.8 L218.77 532.8 L219.22 532.8 L219.67 533.0 L220.12 533.2 L220.56 533.4 L221.01 533.8 L221.46 534.2 L221.91 534.7 L222.35 535.1 L222.80 535.7 L223.25 536.2 L223.70 536.7 L224.15 537.2 L224.59 537.6 L225.04 538.0 L225.49 538.4 L225.94 538.7 L226.39 538.9 L226.83 539.0 L227.28 539.0 L227.73 539.0 L228.18 538.9 L228.62 538.7 L229.07 538.4 L229.52 538.1 L229.96 537.7 L230.41 537.3 L230.86 536.8 L231.31 536.3 L231.75 535.8 L232.20 535.3 L232.65 534.8 L233.10 534.3 L233.54 533.9 L233.99 533.5 L234.44 533.2 L234.89 532.9 L235.33 532.7 L235.78 532.6 L236.23 532.6 L236.68 532.6 L237.12 532.8 L237.57 533.0 L238.02 533.3 L238.47 533.6 L238.92 534.1 L239.36 534.5 L239.81 535.0 L240.26 535.6 L240.71 536.1 L241.15 536.6 L241.60 537.2 L242.05 537.6 L242.50 538.0 L242.95 538.4 L243.39 538.7 L243.84 538.9 L244.29 539.1 L244.74 539.1 L245.19 539.1 L245.65 538.9 L246.11 538.7 L246.57 538.4 L247.02 538.0 L247.48 537.6 L247.94 537.1 L248.39 536.6 L248.85 536.1 L249.31 535.6 L249.76 535.0 L250.22 534.5 L250.68 534.0 L251.14 533.6 L251.59 533.2 L252.05 532.9 L252.51 532.7 L252.96 532.6 L253.42 532.5 L253.88 532.6 L254.34 532.7 L254.80 533.0 L255.25 533.3 L255.71 533.7 L256.17 534.2 L256.63 534.8 L257.09 535.3 L257.54 535.9 L258.00 536.5 L258.46 537.1 L258.92 537.6 L259.38 538.1 L259.83 538.5 L260.29 538.8 L260.75 539.1 L261.21 539.2 L261.67 539.3 L262.11 539.2 L262.54 539.1 L262.98 538.8 L263.42 538.5 L263.86 538.1 L264.30 537.7 L264.74 537.1 L265.18 536.6 L265.61 536.0 L266.05 535.4 L266.49 534.8 L266.93 534.3 L267.37 533.8 L267.81 533.3 L268.25 532.9 L268.68 532.6 L269.12 532.4 L269.56 532.2 L270.00 532.2 L270.45 532.2 L270.90 532.4 L271.34 532.6 L271.79 533.0 L272.24 533.4 L272.69 533.9 L273.13 534.5 L273.58 535.1 L274.03 535.7 L274.48 536.3 L274.93 536.9 L275.37 537.5 L275.82 538.1 L276.27 538.6 L276.72 539.0 L277.17 539.4 L277.61 539.6 L278.06 539.8 L278.51 539.8 L278.97 539.8 L279.42 539.6 L279.88 539.3 L280.34 538.9 L280.80 538.4 L281.26 537.8 L281.72 537.2 L282.17 536.5 L282.63 535.8 L283.09 535.1 L283.55 534.4 L284.01 533.7 L284.46 533.2 L284.92 532.7 L285.38 532.2 L285.84 531.9 L286.30 531.8 L286.75 531.7 L287.21 531.8 L287.67 531.9 L288.13 532.2 L288.58 532.6 L289.04 533.0 L289.50 533.6 L289.95 534.2 L290.41 534.8 L290.87 535.5 L291.33 536.2 L291.78 536.9 L292.24 537.5 L292.70 538.1 L293.15 538.6 L293.61 539.1 L294.07 539.5 L294.52 539.8 L294.98 539.9 L295.44 540.0 L295.90 539.9 L296.35 539.7 L296.81 539.5 L297.27 539.1 L297.73 538.6 L298.19 538.0 L298.65 537.4 L299.10 536.8 L299.56 536.1 L300.02 535.4 L300.48 534.7 L300.94 534.1 L301.39 533.6 L301.85 533.1 L302.31 532.7 L302.77 532.4 L303.23 532.2 L303.68 532.2 L304.12 532.2 L304.56 532.3 L305.00 532.5 L305.44 532.8 L305.88 533.2 L306.32 533.6 L306.75 534.0 L307.19 534.5 L307.63 535.1 L308.07 535.6 L308.51 536.1 L308.95 536.7 L309.39 537.2 L309.82 537.6 L310.26 538.0 L310.70 538.4 L311.14 538.7 L311.58 538.9 L312.02 539.0 L312.46 539.1 L312.90 539.0 L313.34 538.9 L313.79 538.7 L314.23 538.4 L314.67 538.1 L315.12 537.7 L315.56 537.3 L316.00 536.8 L316.45 536.3 L316.89 535.9 L317.33 535.4 L317.77 534.9 L318.22 534.5 L318.66 534.1 L319.10 533.8 L319.55 533.5 L319.99 533.3 L320.43 533.2 L320.88 533.2 L321.32 533.2 L321.75 533.3 L322.19 533.4 L322.63 533.7 L323.07 533.9 L323.51 534.2 L323.95 534.6 L324.39 535.0 L324.82 535.4 L325.26 535.8 L325.70 536.2 L326.14 536.6 L326.58 537.0 L327.02 537.3 L327.46 537.6 L327.89 537.9 L328.33 538.1 L328.77 538.3 L329.21 538.4 L329.65 538.4 L330.11 538.4 L330.56 538.3 L331.02 538.1 L331.48 537.9 L331.93 537.6 L332.39 537.3 L332.85 536.9 L333.31 536.5 L333.76 536.1 L334.22 535.7 L334.68 535.2 L335.13 534.8 L335.59 534.5 L336.05 534.1 L336.51 533.9 L336.96 533.6 L337.42 533.5 L337.88 533.4 L338.33 533.3 L338.79 533.4 L339.25 533.5 L339.70 533.6 L340.16 533.9 L340.62 534.2 L341.08 534.5 L341.53 534.9 L341.99 535.3 L342.45 535.8 L342.90 536.2 L343.36 536.6 L343.82 537.0 L344.28 537.4 L344.73 537.8 L345.19 538.1 L345.65 538.3 L346.10 538.5 L346.56 538.6 L347.02 538.6 L347.46 538.6 L347.90 538.5 L348.35 538.3 L348.79 538.1 L349.23 537.8 L349.68 537.4 L350.12 537.0 L350.56 536.6 L351.00 536.2 L351.45 535.7 L351.89 535.2 L352.33 534.8 L352.78 534.4 L353.22 534.0 L353.66 533.6 L354.11 533.3 L354.55 533.1 L354.99 532.9 L355.43 532.8 L355.88 532.8 L356.33 532.8 L356.79 533.0 L357.25 533.2 L357.71 533.5 L358.16 533.8 L358.62 534.2 L359.08 534.7 L359.53 535.2 L359.99 535.7 L360.45 536.2 L360.90 536.7 L361.36 537.2 L361.82 537.7 L362.28 538.1 L362.73 538.5 L363.19 538.8 L363.65 539.0 L364.10 539.1 L364.56 539.1 L365.01 539.1 L365.46 539.0 L365.90 538.8 L366.35 538.5 L366.80 538.1 L367.25 537.7 L367.69 537.3 L368.14 536.8 L368.59 536.2 L369.04 535.7 L369.48 535.2 L369.93 534.6 L370.38 534.1 L370.82 533.7 L371.27 533.3 L371.72 532.9 L372.17 532.6 L372.61 532.4 L373.06 532.3 L373.51 532.3 L373.97 532.3 L374.42 532.5 L374.88 532.8 L375.34 533.1 L375.80 533.5 L376.26 534.1 L376.72 534.6 L377.17 535.2 L377.63 535.8 L378.09 536.5 L378.55 537.1 L379.01 537.6 L379.46 538.1 L379.92 538.6 L380.38 538.9 L380.84 539.2 L381.30 539.4 L381.75 539.4 L382.20 539.4 L382.65 539.2 L383.10 539.0 L383.55 538.7 L383.99 538.3 L384.44 537.8 L384.89 537.3 L385.34 536.7 L385.78 536.2 L386.23 535.6 L386.68 535.0 L387.13 534.5 L387.58 533.9 L388.02 533.5 L388.47 533.1 L388.92 532.8 L389.37 532.5 L389.82 532.4 L390.26 532.3 L390.71 532.4 L391.16 532.5 L391.61 532.8 L392.06 533.2 L392.50 533.6 L392.95 534.1 L393.40 534.7 L393.85 535.2 L394.30 535.9 L394.75 536.5 L395.19 537.1 L395.64 537.6 L396.09 538.1 L396.54 538.6 L396.99 538.9 L397.44 539.2 L397.88 539.3 L398.33 539.4 L398.78 539.3 L399.23 539.2 L399.68 538.9 L400.12 538.6 L400.57 538.2 L401.02 537.7 L401.47 537.2 L401.92 536.7 L402.36 536.1 L402.81 535.5 L403.26 534.9 L403.71 534.3 L404.16 533.8 L404.60 533.3 L405.05 532.9 L405.50 532.6 L405.95 532.4 L406.39 532.2 L406.84 532.2 L407.30 532.2 L407.76 532.4 L408.22 532.7 L408.67 533.1 L409.13 533.5 L409.59 534.1 L410.05 534.7 L410.51 535.3 L410.96 536.0 L411.42 536.6 L411.88 537.3 L412.34 537.9 L412.80 538.4 L413.26 538.9 L413.71 539.3 L414.17 539.6 L414.63 539.7 L415.09 539.8 L415.54 539.7 L415.98 539.6 L416.43 539.3 L416.88 539.0 L417.33 538.5 L417.77 538.0 L418.22 537.4 L418.67 536.8 L419.12 536.1 L419.57 535.5 L420.01 534.8 L420.46 534.2 L420.91 533.6 L421.36 533.1 L421.81 532.7 L422.25 532.3 L422.70 532.1 L423.15 531.9 L423.60 531.8 L424.04 531.9 L424.49 532.1 L424.94 532.3 L425.39 532.7 L425.84 533.1 L426.28 533.7 L426.73 534.3 L427.18 534.9 L427.63 535.5 L428.07 536.2 L428.52 536.8 L428.97 537.5 L429.42 538.1 L429.87 538.6 L430.31 539.0 L430.76 539.4 L431.21 539.7 L431.66 539.8 L432.11 539.9 L432.55 539.8 L432.99 539.7 L433.43 539.4 L433.88 539.1 L434.32 538.7 L434.76 538.2 L435.21 537.6 L435.65 537.0 L436.09 536.4 L436.54 535.8 L436.98 535.2 L437.42 534.6 L437.87 534.1 L438.31 533.6 L438.75 533.2 L439.20 532.8 L439.64 532.6 L440.08 532.4 L440.53 532.4 L440.96 532.4 L441.40 532.5 L441.84 532.7 L442.28 533.0 L442.72 533.3 L443.16 533.7 L443.60 534.2 L444.04 534.7 L444.47 535.2 L444.91 535.7 L445.35 536.2 L445.79 536.7 L446.23 537.2 L446.67 537.6 L447.11 538.0 L447.54 538.4 L447.98 538.6 L448.42 538.8 L448.86 539.0 L449.30 539.0 L449.76 539.0 L450.21 538.8 L450.67 538.7 L451.13 538.4 L451.58 538.1 L452.04 537.7 L452.50 537.3 L452.95 536.8 L453.41 536.4 L453.87 535.9 L454.33 535.4 L454.78 535.0 L455.24 534.6 L455.70 534.2 L456.15 533.9 L456.61 533.6 L457.07 533.4 L457.53 533.3 L457.98 533.3 L458.44 533.3 L458.90 533.4 L459.35 533.6 L459.81 533.8 L460.27 534.1 L460.72 534.4 L461.18 534.7 L461.64 535.1 L462.10 535.5 L462.55 535.9 L463.01 536.3 L463.47 536.7 L463.92 537.1 L464.38 537.4 L464.84 537.7 L465.30 537.9 L465.75 538.1 L466.21 538.2 L466.67 538.2 L467.12 538.2 L467.58 538.1 L468.04 537.9 L468.49 537.7 L468.95 537.4 L469.41 537.1 L469.87 536.8 L470.32 536.4 L470.78 536.0 L471.24 535.6 L471.69 535.2 L472.15 534.9 L472.61 534.5 L473.07 534.2 L473.52 533.9 L473.98 533.7 L474.44 533.5 L474.89 533.5 L475.35 533.4 L475.79 533.5 L476.23 533.5 L476.67 533.7 L477.11 533.9 L477.54 534.2 L477.98 534.5 L478.42 534.8 L478.86 535.2 L479.30 535.6 L479.74 536.0 L480.18 536.4 L480.61 536.8 L481.05 537.2 L481.49 537.6 L481.93 537.9 L482.37 538.1 L482.81 538.3 L483.25 538.5 L483.68 538.6 L484.12 538.6 L484.57 538.6 L485.01 538.5 L485.45 538.3 L485.89 538.1 L486.34 537.8 L486.78 537.4 L487.22 537.0 L487.67 536.6 L488.11 536.1 L488.55 535.7 L489.00 535.2 L489.44 534.7 L489.88 534.3 L490.32 533.9 L490.77 533.6 L491.21 533.3 L491.65 533.0 L492.10 532.8 L492.54 532.7 L492.98 532.7 L493.44 532.7 L493.90 532.9 L494.35 533.1 L494.81 533.4 L495.27 533.8 L495.72 534.2 L496.18 534.7 L496.64 535.2 L497.10 535.8 L497.55 536.3 L498.01 536.9 L498.47 537.4 L498.92 537.9 L499.38 538.3 L499.84 538.7 L500.30 539.0 L500.75 539.2 L501.21 539.3 L501.67 539.4 L502.11 539.3 L502.55 539.2 L503.00 539.0 L503.44 538.7 L503.88 538.3 L504.32 537.9 L504.77 537.4 L505.21 536.8 L505.65 536.3 L506.10 535.7 L506.54 535.1 L506.98 534.6 L507.43 534.0 L507.87 533.5 L508.31 533.1 L508.75 532.7 L509.20 532.4 L509.64 532.2 L510.08 532.1 L510.53 532.0 L510.97 532.1 L511.41 532.3 L511.86 532.5 L512.30 532.9 L512.74 533.4 L513.19 533.9 L513.63 534.6 L514.07 535.2 L514.52 535.9 L514.96 536.5 L515.40 537.2 L515.85 537.8 L516.29 538.3 L516.73 538.8 L517.18 539.2 L517.62 539.5 L518.07 539.7 L518.51 539.7 L518.96 539.7 L519.40 539.5 L519.85 539.3 L520.30 539.0 L520.75 538.6 L521.19 538.2 L521.64 537.7 L522.09 537.1 L522.54 536.6 L522.98 536.0 L523.43 535.4 L523.88 534.8 L524.32 534.3 L524.77 533.8 L525.22 533.3 L525.67 532.9 L526.11 532.6 L526.56 532.4 L527.01 532.3 L527.46 532.2 L527.89 532.3 L528.33 532.4 L528.77 532.7 L529.21 533.1 L529.65 533.5 L530.09 534.0 L530.53 534.6 L530.96 535.2 L531.40 535.9 L531.84 536.5 L532.28 537.1 L532.72 537.7 L533.16 538.2 L533.60 538.6 L534.04 539.0 L534.47 539.3 L534.91 539.4 L535.35 539.5 L535.80 539.4 L536.26 539.3 L536.71 539.0 L537.16 538.7 L537.61 538.3 L538.07 537.9 L538.52 537.3 L538.97 536.8 L539.42 536.2 L539.88 535.6 L540.33 535.0 L540.78 534.5 L541.23 533.9 L541.69 533.5 L542.14 533.1 L542.59 532.7 L543.04 532.5 L543.49 532.4 L543.95 532.3 L544.40 532.4 L544.86 532.6 L545.31 532.9 L545.76 533.3 L546.22 533.8 L546.67 534.4 L547.13 535.0 L547.58 535.7 L548.03 536.3 L548.49 537.0 L548.94 537.6 L549.40 538.2 L549.85 538.7 L550.30 539.1 L550.76 539.4 L551.21 539.6 L551.67 539.7 L552.11 539.6 L552.56 539.5 L553.01 539.3 L553.46 538.9 L553.90 538.6 L554.35 538.1 L554.80 537.6 L555.25 537.0 L555.69 536.5 L556.14 535.9 L556.59 535.3 L557.04 534.7 L557.48 534.2 L557.93 533.6 L558.38 533.2 L558.82 532.8 L559.27 532.5 L559.72 532.3 L560.17 532.1 L560.61 532.1 L561.07 532.1 L561.52 532.3 L561.97 532.6 L562.43 533.0 L562.88 533.4 L563.33 534.0 L563.79 534.6 L564.24 535.2 L564.69 535.9 L565.15 536.5 L565.60 537.2 L566.05 537.8 L566.51 538.3 L566.96 538.8 L567.41 539.2 L567.87 539.4 L568.32 539.6 L568.77 539.7 L569.21 539.6 L569.66 539.5 L570.10 539.3 L570.54 539.0 L570.99 538.7 L571.43 538.3 L571.87 537.9 L572.31 537.4 L572.76 536.9 L573.20 536.4 L573.64 535.8 L574.09 535.3 L574.53 534.8 L574.97 534.3 L575.41 533.9 L575.86 533.5 L576.30 533.1 L576.74 532.9 L577.18 532.7 L577.63 532.6 L578.07 532.5 L578.51 532.6 L578.95 532.7 L579.39 532.9 L579.82 533.2 L580.26 533.6 L580.70 534.0 L581.14 534.5 L581.58 535.0 L582.02 535.5 L582.46 536.1 L582.89 536.6 L583.33 537.2 L583.77 537.6 L584.21 538.1 L584.65 538.4 L585.09 538.7 L585.53 539.0 L585.96 539.1 L586.40 539.1" fill="none" stroke="#ff0000" stroke-width="3.3" stroke-linejoin="round"/></g>
<rect x="410.5" y="681.5" width="260.6" height="89.6" fill="#fff" stroke="#2a2a2a" stroke-width="1.2"/>
<path d="M423 698.6 H486.3" stroke="#0000ff" stroke-width="4"/>
<path d="M423 726.3 H486.3" stroke="#00ff00" stroke-width="4"/>
<path d="M423 754.1 H486.3" stroke="#ff0000" stroke-width="4"/>
<text transform="translate(492.5 705.2) scale(1.143 1.000)" font-family='"Liberation Sans", sans-serif' font-size="18.5" text-anchor="start" font-weight="normal" font-style="normal" fill="#1a1a1a" stroke="#1a1a1a" stroke-width="0.3" >PSO-Fuzzy SMC</text>
<text transform="translate(492.5 732.9) scale(1.143 1.000)" font-family='"Liberation Sans", sans-serif' font-size="18.5" text-anchor="start" font-weight="normal" font-style="normal" fill="#1a1a1a" stroke="#1a1a1a" stroke-width="0.3" >GWO-Fuzzy SMC</text>
<text transform="translate(492.5 760.7) scale(1.143 1.000)" font-family='"Liberation Sans", sans-serif' font-size="18.5" text-anchor="start" font-weight="normal" font-style="normal" fill="#1a1a1a" stroke="#1a1a1a" stroke-width="0.3" >GTO-Fuzzy SMC</text>
<text transform="translate(88.5 447.1) scale(1.160 1.000)" font-family='"Liberation Sans", sans-serif' font-size="18.5" text-anchor="end" font-weight="normal" font-style="normal" fill="#1a1a1a" stroke="#1a1a1a" stroke-width="0.3" >0.1</text>
<text transform="translate(88.5 494.7) scale(1.160 1.000)" font-family='"Liberation Sans", sans-serif' font-size="18.5" text-anchor="end" font-weight="normal" font-style="normal" fill="#1a1a1a" stroke="#1a1a1a" stroke-width="0.3" >0.05</text>
<text transform="translate(88.5 542.4) scale(1.160 1.000)" font-family='"Liberation Sans", sans-serif' font-size="18.5" text-anchor="end" font-weight="normal" font-style="normal" fill="#1a1a1a" stroke="#1a1a1a" stroke-width="0.3" >0</text>
<text transform="translate(88.5 590) scale(1.160 1.000)" font-family='"Liberation Sans", sans-serif' font-size="18.5" text-anchor="end" font-weight="normal" font-style="normal" fill="#1a1a1a" stroke="#1a1a1a" stroke-width="0.3" >-0.05</text>
<text transform="translate(88.5 637.7) scale(1.160 1.000)" font-family='"Liberation Sans", sans-serif' font-size="18.5" text-anchor="end" font-weight="normal" font-style="normal" fill="#1a1a1a" stroke="#1a1a1a" stroke-width="0.3" >-0.1</text>
<text transform="translate(88.5 685.3) scale(1.160 1.000)" font-family='"Liberation Sans", sans-serif' font-size="18.5" text-anchor="end" font-weight="normal" font-style="normal" fill="#1a1a1a" stroke="#1a1a1a" stroke-width="0.3" >-0.15</text>
<text transform="translate(88.5 733) scale(1.160 1.000)" font-family='"Liberation Sans", sans-serif' font-size="18.5" text-anchor="end" font-weight="normal" font-style="normal" fill="#1a1a1a" stroke="#1a1a1a" stroke-width="0.3" >-0.2</text>
<text transform="translate(88.5 780.6) scale(1.160 1.000)" font-family='"Liberation Sans", sans-serif' font-size="18.5" text-anchor="end" font-weight="normal" font-style="normal" fill="#1a1a1a" stroke="#1a1a1a" stroke-width="0.3" >-0.25</text>
<text transform="translate(94.5 796.6) scale(1.160 1.000)" font-family='"Liberation Sans", sans-serif' font-size="18.5" text-anchor="middle" font-weight="normal" font-style="normal" fill="#1a1a1a" stroke="#1a1a1a" stroke-width="0.3" >0</text>
<text transform="translate(176.8 796.6) scale(1.160 1.000)" font-family='"Liberation Sans", sans-serif' font-size="18.5" text-anchor="middle" font-weight="normal" font-style="normal" fill="#1a1a1a" stroke="#1a1a1a" stroke-width="0.3" >5</text>
<text transform="translate(259.2 796.6) scale(1.160 1.000)" font-family='"Liberation Sans", sans-serif' font-size="18.5" text-anchor="middle" font-weight="normal" font-style="normal" fill="#1a1a1a" stroke="#1a1a1a" stroke-width="0.3" >10</text>
<text transform="translate(341.5 796.6) scale(1.160 1.000)" font-family='"Liberation Sans", sans-serif' font-size="18.5" text-anchor="middle" font-weight="normal" font-style="normal" fill="#1a1a1a" stroke="#1a1a1a" stroke-width="0.3" >15</text>
<text transform="translate(423.8 796.6) scale(1.160 1.000)" font-family='"Liberation Sans", sans-serif' font-size="18.5" text-anchor="middle" font-weight="normal" font-style="normal" fill="#1a1a1a" stroke="#1a1a1a" stroke-width="0.3" >20</text>
<text transform="translate(506.1 796.6) scale(1.160 1.000)" font-family='"Liberation Sans", sans-serif' font-size="18.5" text-anchor="middle" font-weight="normal" font-style="normal" fill="#1a1a1a" stroke="#1a1a1a" stroke-width="0.3" >25</text>
<text transform="translate(588.5 796.6) scale(1.160 1.000)" font-family='"Liberation Sans", sans-serif' font-size="18.5" text-anchor="middle" font-weight="normal" font-style="normal" fill="#1a1a1a" stroke="#1a1a1a" stroke-width="0.3" >30</text>
<text transform="translate(670.8 796.6) scale(1.160 1.000)" font-family='"Liberation Sans", sans-serif' font-size="18.5" text-anchor="middle" font-weight="normal" font-style="normal" fill="#1a1a1a" stroke="#1a1a1a" stroke-width="0.3" >35</text>
<text transform="translate(382.5 823) scale(1.160 1.000)" font-family='"Liberation Sans", sans-serif' font-size="18.5" text-anchor="middle" font-weight="normal" font-style="normal" fill="#1a1a1a" stroke="#1a1a1a" stroke-width="0.3" >Time (s)</text>
<text transform="translate(22.3 571.3) rotate(-90) scale(1.030 1.000)" font-family='"Liberation Serif", serif' font-size="22.5" text-anchor="middle" font-weight="normal" font-style="normal" fill="#1a1a1a" stroke="#1a1a1a" stroke-width="0.3" >&#916;<tspan font-style="italic">f</tspan> (Hz)</text>
</g>
<g font-family='"Noto Sans CJK SC", "Liberation Sans", sans-serif' font-size="21" font-weight="bold" fill="#000">
<text font-weight="500" transform="translate(325.9 887.7) scale(1.35 1)">(</text><text x="336.3" y="887.7">b</text><text font-weight="500" transform="translate(350.4 887.7) scale(1.35 1)">)</text>
</g>
<g id="plot3">
<rect x="83.7" y="946.3" width="587.8" height="288.9" fill="none" stroke="#585858" stroke-width="1.6"/>
<path d="M167.7 1235.2 v-6 M167.7 946.3 v6 M251.6 1235.2 v-6 M251.6 946.3 v6 M335.6 1235.2 v-6 M335.6 946.3 v6 M419.6 1235.2 v-6 M419.6 946.3 v6 M503.6 1235.2 v-6 M503.6 946.3 v6 M587.5 1235.2 v-6 M587.5 946.3 v6 M83.7 1179.6 h6 M671.5 1179.6 h-6 M83.7 1124 h6 M671.5 1124 h-6 M83.7 1068.5 h6 M671.5 1068.5 h-6 M83.7 1012.9 h6 M671.5 1012.9 h-6 M83.7 957.3 h6 M671.5 957.3 h-6 " stroke="#585858" stroke-width="1.2" fill="none"/>
<clipPath id="c3"><rect x="83.8" y="946.3" width="588" height="289.7"/></clipPath>
<path clip-path="url(#c3)" d="M84.6 1237 L84.8 1220 L85.8 1150 L88.5 1093 L90.1 1050 L92.4 957.9" fill="none" stroke="#ff00ff" stroke-width="4.2" stroke-linejoin="round"/>
<path clip-path="url(#c3)" d="M91.2 956.9 H673.5" fill="none" stroke="#ff00ff" stroke-width="4.0"/>
<path d="M143.6 956.9 L149 956.9 L148.6 961 L148 965.1 L144.6 965.1 Z M162.8 956.9 L168.2 956.9 L167.8 973.4 L167.2 989.9 L163.8 989.9 Z M182.4 956.9 L187.8 956.9 L187.4 971.5 L186.8 986.1 L183.4 986.1 Z M202.3 956.9 L207.7 956.9 L207.3 969.8 L206.7 982.6 L203.3 982.6 Z M221.8 956.9 L227.2 956.9 L226.8 971.2 L226.2 985.6 L222.8 985.6 Z M242.8 956.9 L248.2 956.9 L247.8 970.2 L247.2 983.5 L243.8 983.5 Z M263.3 956.9 L268.7 956.9 L268.3 967.6 L267.7 978.3 L264.3 978.3 Z M282.6 956.9 L288 956.9 L287.6 969 L287 981.1 L283.6 981.1 Z M301.6 956.9 L307 956.9 L306.6 971.6 L306 986.3 L302.6 986.3 Z M321.9 956.9 L327.3 956.9 L326.9 972.8 L326.3 988.7 L322.9 988.7 Z M340.9 956.9 L346.3 956.9 L345.9 971.6 L345.3 986.3 L341.9 986.3 Z M360.8 956.9 L366.2 956.9 L365.8 968.8 L365.2 980.8 L361.8 980.8 Z M381.3 956.9 L386.7 956.9 L386.3 971.1 L385.7 985.4 L382.3 985.4 Z M401.3 956.9 L406.7 956.9 L406.3 970 L405.7 983.2 L402.3 983.2 Z M422.1 956.9 L427.5 956.9 L427.1 969.6 L426.5 982.3 L423.1 982.3 Z M442 956.9 L447.4 956.9 L447 969.6 L446.4 982.3 L443 982.3 Z M461 956.9 L466.4 956.9 L466 971.3 L465.4 985.7 L462 985.7 Z M480.8 956.9 L486.2 956.9 L485.8 972.9 L485.2 988.9 L481.8 988.9 Z M500.3 956.9 L505.7 956.9 L505.3 971.3 L504.7 985.8 L501.3 985.8 Z M520.7 956.9 L526.1 956.9 L525.7 967.9 L525.1 978.9 L521.7 978.9 Z M540.4 956.9 L545.8 956.9 L545.4 969.8 L544.8 982.7 L541.4 982.7 Z M560.8 956.9 L566.2 956.9 L565.8 969.3 L565.2 981.7 L561.8 981.7 Z M580.9 956.9 L586.3 956.9 L585.9 970.5 L585.3 984.2 L581.9 984.2 Z M601.3 956.9 L606.7 956.9 L606.3 969.8 L605.7 982.7 L602.3 982.7 Z M620.5 956.9 L625.9 956.9 L625.5 970.5 L624.9 984.2 L621.5 984.2 Z M639.3 956.9 L644.7 956.9 L644.3 972.1 L643.7 987.4 L640.3 987.4 Z M659.7 956.9 L665.1 956.9 L664.7 971.3 L664.1 985.8 L660.7 985.8 Z " fill="#ff00ff" stroke="none"/>
<text transform="translate(77.5 1241.8)" font-family='"Liberation Sans", sans-serif' font-size="18.5" text-anchor="end" font-weight="normal" font-style="normal" fill="#1a1a1a" stroke="#1a1a1a" stroke-width="0.3" >0</text>
<text transform="translate(77.5 1186.2)" font-family='"Liberation Sans", sans-serif' font-size="18.5" text-anchor="end" font-weight="normal" font-style="normal" fill="#1a1a1a" stroke="#1a1a1a" stroke-width="0.3" >0.05</text>
<text transform="translate(77.5 1130.6)" font-family='"Liberation Sans", sans-serif' font-size="18.5" text-anchor="end" font-weight="normal" font-style="normal" fill="#1a1a1a" stroke="#1a1a1a" stroke-width="0.3" >0.1</text>
<text transform="translate(77.5 1075.1)" font-family='"Liberation Sans", sans-serif' font-size="18.5" text-anchor="end" font-weight="normal" font-style="normal" fill="#1a1a1a" stroke="#1a1a1a" stroke-width="0.3" >0.15</text>
<text transform="translate(77.5 1019.5)" font-family='"Liberation Sans", sans-serif' font-size="18.5" text-anchor="end" font-weight="normal" font-style="normal" fill="#1a1a1a" stroke="#1a1a1a" stroke-width="0.3" >0.2</text>
<text transform="translate(77.5 963.9)" font-family='"Liberation Sans", sans-serif' font-size="18.5" text-anchor="end" font-weight="normal" font-style="normal" fill="#1a1a1a" stroke="#1a1a1a" stroke-width="0.3" >0.25</text>
<text transform="translate(83.7 1259)" font-family='"Liberation Sans", sans-serif' font-size="18.5" text-anchor="middle" font-weight="normal" font-style="normal" fill="#1a1a1a" stroke="#1a1a1a" stroke-width="0.3" >0</text>
<text transform="translate(167.7 1259)" font-family='"Liberation Sans", sans-serif' font-size="18.5" text-anchor="middle" font-weight="normal" font-style="normal" fill="#1a1a1a" stroke="#1a1a1a" stroke-width="0.3" >5</text>
<text transform="translate(251.6 1259)" font-family='"Liberation Sans", sans-serif' font-size="18.5" text-anchor="middle" font-weight="normal" font-style="normal" fill="#1a1a1a" stroke="#1a1a1a" stroke-width="0.3" >10</text>
<text transform="translate(335.6 1259)" font-family='"Liberation Sans", sans-serif' font-size="18.5" text-anchor="middle" font-weight="normal" font-style="normal" fill="#1a1a1a" stroke="#1a1a1a" stroke-width="0.3" >15</text>
<text transform="translate(419.6 1259)" font-family='"Liberation Sans", sans-serif' font-size="18.5" text-anchor="middle" font-weight="normal" font-style="normal" fill="#1a1a1a" stroke="#1a1a1a" stroke-width="0.3" >20</text>
<text transform="translate(503.6 1259)" font-family='"Liberation Sans", sans-serif' font-size="18.5" text-anchor="middle" font-weight="normal" font-style="normal" fill="#1a1a1a" stroke="#1a1a1a" stroke-width="0.3" >25</text>
<text transform="translate(587.5 1259)" font-family='"Liberation Sans", sans-serif' font-size="18.5" text-anchor="middle" font-weight="normal" font-style="normal" fill="#1a1a1a" stroke="#1a1a1a" stroke-width="0.3" >30</text>
<text transform="translate(671.5 1259)" font-family='"Liberation Sans", sans-serif' font-size="18.5" text-anchor="middle" font-weight="normal" font-style="normal" fill="#1a1a1a" stroke="#1a1a1a" stroke-width="0.3" >35</text>
<text transform="translate(377.5 1284.5)" font-family='"Liberation Sans", sans-serif' font-size="18.5" text-anchor="middle" font-weight="normal" font-style="normal" fill="#1a1a1a" stroke="#1a1a1a" stroke-width="0.3" >Time (s)</text>
<text transform="translate(24.6 1082.4) rotate(-90) scale(1.070 1.130)" font-family='"Liberation Serif", serif' font-size="22" text-anchor="middle" font-weight="normal" font-style="normal" fill="#1a1a1a" stroke="#1a1a1a" stroke-width="0.3" letter-spacing="0.9">&#916;<tspan font-style="italic">P</tspan><tspan font-style="italic" font-size="16" dy="3">DEG</tspan><tspan dy="-3"> (p. u)</tspan></text>
</g>
<g font-family='"Noto Sans CJK SC", "Liberation Sans", sans-serif' font-size="21" font-weight="bold" fill="#000">
<text font-weight="500" transform="translate(325.9 1352) scale(1.35 1)">(</text><text x="337.3" y="1352">c</text><text font-weight="500" transform="translate(350.4 1352) scale(1.35 1)">)</text>
</g>
</svg>
</body></html>
